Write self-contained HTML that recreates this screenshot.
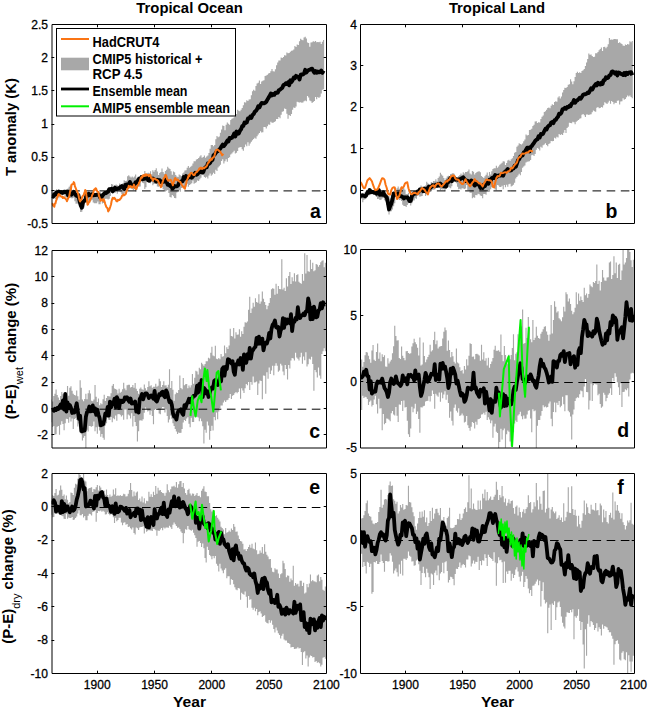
<!DOCTYPE html>
<html><head><meta charset="utf-8"><title>Tropical P-E</title>
<style>html,body{margin:0;padding:0;background:#fff;width:649px;height:710px;overflow:hidden}svg{display:block}text{font-family:"Liberation Sans",sans-serif;fill:#000}</style>
</head><body><svg width="649" height="710" viewBox="0 0 649 710" font-family="Liberation Sans, sans-serif"><defs><clipPath id="clipa"><rect x="51.5" y="24.5" width="275.0" height="199.0"/></clipPath><clipPath id="clipb"><rect x="360.5" y="24.5" width="274.0" height="199.0"/></clipPath><clipPath id="clipc"><rect x="51.5" y="250.5" width="275.0" height="197.5"/></clipPath><clipPath id="clipd"><rect x="360.5" y="249.5" width="274.0" height="198.5"/></clipPath><clipPath id="clipe"><rect x="51.5" y="473.5" width="275.0" height="200.0"/></clipPath><clipPath id="clipf"><rect x="360.5" y="473.5" width="274.0" height="200.0"/></clipPath></defs><g clip-path="url(#clipa)">
<path d="M51.43,190.30 L52.57,190.30 L52.57,192.91 L53.72,192.91 L53.72,190.10 L54.86,190.10 L54.86,191.48 L56.01,191.48 L56.01,189.22 L57.16,189.22 L57.16,191.12 L58.30,191.12 L58.30,193.61 L59.45,193.61 L59.45,192.11 L60.59,192.11 L60.59,195.80 L61.74,195.80 L61.74,192.12 L62.89,192.12 L62.89,191.56 L64.03,191.56 L64.03,190.45 L65.18,190.45 L65.18,190.87 L66.32,190.87 L66.32,192.57 L67.47,192.57 L67.47,188.51 L68.61,188.51 L68.61,186.72 L69.76,186.72 L69.76,185.56 L70.91,185.56 L70.91,186.08 L72.05,186.08 L72.05,193.63 L73.20,193.63 L73.20,195.09 L74.34,195.09 L74.34,194.50 L75.49,194.50 L75.49,195.00 L76.64,195.00 L76.64,196.16 L77.78,196.16 L77.78,198.18 L78.93,198.18 L78.93,202.21 L80.07,202.21 L80.07,203.06 L81.22,203.06 L81.22,203.29 L82.36,203.29 L82.36,202.35 L83.51,202.35 L83.51,201.79 L84.66,201.79 L84.66,199.03 L85.80,199.03 L85.80,198.01 L86.95,198.01 L86.95,198.48 L88.09,198.48 L88.09,197.05 L89.24,197.05 L89.24,195.63 L90.39,195.63 L90.39,194.44 L91.53,194.44 L91.53,191.47 L92.68,191.47 L92.68,192.36 L93.82,192.36 L93.82,193.48 L94.97,193.48 L94.97,193.88 L96.11,193.88 L96.11,193.03 L97.26,193.03 L97.26,195.27 L98.41,195.27 L98.41,192.23 L99.55,192.23 L99.55,192.01 L100.70,192.01 L100.70,192.94 L101.84,192.94 L101.84,196.20 L102.99,196.20 L102.99,194.13 L104.14,194.13 L104.14,192.76 L105.28,192.76 L105.28,190.98 L106.43,190.98 L106.43,191.72 L107.57,191.72 L107.57,190.02 L108.72,190.02 L108.72,187.27 L109.86,187.27 L109.86,188.63 L111.01,188.63 L111.01,184.05 L112.16,184.05 L112.16,184.59 L113.30,184.59 L113.30,187.01 L114.45,187.01 L114.45,185.69 L115.59,185.69 L115.59,184.45 L116.74,184.45 L116.74,185.23 L117.89,185.23 L117.89,185.87 L119.03,185.87 L119.03,183.59 L120.18,183.59 L120.18,187.16 L121.32,187.16 L121.32,184.95 L122.47,184.95 L122.47,182.89 L123.61,182.89 L123.61,180.26 L124.76,180.26 L124.76,180.88 L125.91,180.88 L125.91,180.84 L127.05,180.84 L127.05,176.17 L128.20,176.17 L128.20,175.22 L129.34,175.22 L129.34,176.47 L130.49,176.47 L130.49,177.48 L131.64,177.48 L131.64,176.62 L132.78,176.62 L132.78,177.52 L133.93,177.52 L133.93,176.54 L135.07,176.54 L135.07,174.47 L136.22,174.47 L136.22,178.26 L137.36,178.26 L137.36,176.86 L138.51,176.86 L138.51,176.83 L139.66,176.83 L139.66,180.18 L140.80,180.18 L140.80,176.81 L141.95,176.81 L141.95,178.46 L143.09,178.46 L143.09,173.97 L144.24,173.97 L144.24,171.10 L145.39,171.10 L145.39,174.01 L146.53,174.01 L146.53,173.31 L147.68,173.31 L147.68,172.80 L148.82,172.80 L148.82,173.60 L149.97,173.60 L149.97,171.25 L151.11,171.25 L151.11,174.17 L152.26,174.17 L152.26,170.15 L153.41,170.15 L153.41,171.77 L154.55,171.77 L154.55,170.07 L155.70,170.07 L155.70,168.30 L156.84,168.30 L156.84,171.53 L157.99,171.53 L157.99,174.89 L159.14,174.89 L159.14,173.05 L160.28,173.05 L160.28,171.96 L161.43,171.96 L161.43,168.40 L162.57,168.40 L162.57,171.93 L163.72,171.93 L163.72,173.63 L164.86,173.63 L164.86,170.95 L166.01,170.95 L166.01,169.85 L167.16,169.85 L167.16,166.78 L168.30,166.78 L168.30,168.14 L169.45,168.14 L169.45,169.06 L170.59,169.06 L170.59,171.15 L171.74,171.15 L171.74,174.63 L172.89,174.63 L172.89,171.50 L174.03,171.50 L174.03,172.27 L175.18,172.27 L175.18,174.93 L176.32,174.93 L176.32,176.61 L177.47,176.61 L177.47,177.01 L178.61,177.01 L178.61,174.43 L179.76,174.43 L179.76,175.33 L180.91,175.33 L180.91,176.07 L182.05,176.07 L182.05,173.47 L183.20,173.47 L183.20,172.53 L184.34,172.53 L184.34,170.50 L185.49,170.50 L185.49,170.28 L186.64,170.28 L186.64,167.84 L187.78,167.84 L187.78,166.03 L188.93,166.03 L188.93,167.75 L190.07,167.75 L190.07,166.80 L191.22,166.80 L191.22,165.74 L192.36,165.74 L192.36,163.60 L193.51,163.60 L193.51,161.22 L194.66,161.22 L194.66,161.34 L195.80,161.34 L195.80,159.57 L196.95,159.57 L196.95,158.99 L198.09,158.99 L198.09,158.09 L199.24,158.09 L199.24,156.52 L200.39,156.52 L200.39,155.14 L201.53,155.14 L201.53,157.63 L202.68,157.63 L202.68,156.98 L203.82,156.98 L203.82,155.59 L204.97,155.59 L204.97,157.65 L206.11,157.65 L206.11,156.48 L207.26,156.48 L207.26,155.62 L208.41,155.62 L208.41,152.92 L209.55,152.92 L209.55,148.67 L210.70,148.67 L210.70,144.98 L211.84,144.98 L211.84,145.01 L212.99,145.01 L212.99,146.23 L214.14,146.23 L214.14,144.90 L215.28,144.90 L215.28,139.22 L216.43,139.22 L216.43,136.08 L217.57,136.08 L217.57,137.21 L218.72,137.21 L218.72,136.50 L219.86,136.50 L219.86,132.64 L221.01,132.64 L221.01,129.55 L222.16,129.55 L222.16,125.62 L223.30,125.62 L223.30,125.89 L224.45,125.89 L224.45,130.19 L225.59,130.19 L225.59,124.69 L226.74,124.69 L226.74,122.53 L227.89,122.53 L227.89,123.64 L229.03,123.64 L229.03,124.71 L230.18,124.71 L230.18,120.00 L231.32,120.00 L231.32,118.81 L232.47,118.81 L232.47,118.13 L233.61,118.13 L233.61,117.21 L234.76,117.21 L234.76,114.14 L235.91,114.14 L235.91,113.89 L237.05,113.89 L237.05,109.69 L238.20,109.69 L238.20,110.81 L239.34,110.81 L239.34,111.36 L240.49,111.36 L240.49,109.87 L241.64,109.87 L241.64,108.05 L242.78,108.05 L242.78,105.25 L243.93,105.25 L243.93,102.30 L245.07,102.30 L245.07,102.55 L246.22,102.55 L246.22,100.19 L247.36,100.19 L247.36,100.96 L248.51,100.96 L248.51,99.52 L249.66,99.52 L249.66,99.20 L250.80,99.20 L250.80,95.21 L251.95,95.21 L251.95,91.19 L253.09,91.19 L253.09,89.84 L254.24,89.84 L254.24,90.80 L255.39,90.80 L255.39,86.09 L256.53,86.09 L256.53,83.40 L257.68,83.40 L257.68,82.86 L258.82,82.86 L258.82,80.42 L259.97,80.42 L259.97,83.98 L261.11,83.98 L261.11,81.44 L262.26,81.44 L262.26,80.87 L263.41,80.87 L263.41,80.15 L264.55,80.15 L264.55,76.09 L265.70,76.09 L265.70,75.46 L266.84,75.46 L266.84,74.73 L267.99,74.73 L267.99,73.56 L269.14,73.56 L269.14,72.96 L270.28,72.96 L270.28,71.28 L271.43,71.28 L271.43,69.10 L272.57,69.10 L272.57,71.28 L273.72,71.28 L273.72,71.56 L274.86,71.56 L274.86,69.28 L276.01,69.28 L276.01,65.15 L277.16,65.15 L277.16,62.55 L278.30,62.55 L278.30,60.57 L279.45,60.57 L279.45,60.43 L280.59,60.43 L280.59,57.55 L281.74,57.55 L281.74,57.97 L282.89,57.97 L282.89,56.89 L284.03,56.89 L284.03,55.16 L285.18,55.16 L285.18,55.48 L286.32,55.48 L286.32,52.53 L287.47,52.53 L287.47,53.29 L288.61,53.29 L288.61,52.90 L289.76,52.90 L289.76,51.84 L290.91,51.84 L290.91,50.66 L292.05,50.66 L292.05,50.60 L293.20,50.60 L293.20,49.52 L294.34,49.52 L294.34,46.09 L295.49,46.09 L295.49,47.04 L296.64,47.04 L296.64,44.50 L297.78,44.50 L297.78,45.08 L298.93,45.08 L298.93,41.24 L300.07,41.24 L300.07,38.76 L301.22,38.76 L301.22,39.80 L302.36,39.80 L302.36,40.16 L303.51,40.16 L303.51,37.58 L304.66,37.58 L304.66,36.75 L305.80,36.75 L305.80,38.50 L306.95,38.50 L306.95,42.47 L308.09,42.47 L308.09,42.96 L309.24,42.96 L309.24,46.82 L310.39,46.82 L310.39,42.50 L311.53,42.50 L311.53,42.17 L312.68,42.17 L312.68,41.27 L313.82,41.27 L313.82,41.68 L314.97,41.68 L314.97,41.01 L316.11,41.01 L316.11,42.34 L317.26,42.34 L317.26,42.09 L318.41,42.09 L318.41,42.30 L319.55,42.30 L319.55,41.65 L320.70,41.65 L320.70,43.93 L321.84,43.93 L321.84,41.72 L322.99,41.72 L322.99,40.02 L324.14,40.02 L324.14,89.32 L322.99,89.32 L322.99,89.73 L321.84,89.73 L321.84,93.58 L320.70,93.58 L320.70,96.82 L319.55,96.82 L319.55,98.09 L318.41,98.09 L318.41,96.95 L317.26,96.95 L317.26,99.31 L316.11,99.31 L316.11,96.95 L314.97,96.95 L314.97,100.96 L313.82,100.96 L313.82,102.06 L312.68,102.06 L312.68,102.93 L311.53,102.93 L311.53,101.28 L310.39,101.28 L310.39,100.38 L309.24,100.38 L309.24,97.44 L308.09,97.44 L308.09,96.10 L306.95,96.10 L306.95,101.35 L305.80,101.35 L305.80,100.44 L304.66,100.44 L304.66,101.14 L303.51,101.14 L303.51,102.42 L302.36,102.42 L302.36,102.67 L301.22,102.67 L301.22,102.29 L300.07,102.29 L300.07,102.39 L298.93,102.39 L298.93,102.28 L297.78,102.28 L297.78,101.82 L296.64,101.82 L296.64,106.49 L295.49,106.49 L295.49,108.00 L294.34,108.00 L294.34,107.42 L293.20,107.42 L293.20,109.72 L292.05,109.72 L292.05,113.99 L290.91,113.99 L290.91,116.01 L289.76,116.01 L289.76,115.02 L288.61,115.02 L288.61,118.84 L287.47,118.84 L287.47,113.66 L286.32,113.66 L286.32,108.96 L285.18,108.96 L285.18,108.43 L284.03,108.43 L284.03,111.18 L282.89,111.18 L282.89,111.85 L281.74,111.85 L281.74,114.63 L280.59,114.63 L280.59,118.27 L279.45,118.27 L279.45,117.08 L278.30,117.08 L278.30,118.90 L277.16,118.90 L277.16,118.96 L276.01,118.96 L276.01,121.28 L274.86,121.28 L274.86,122.09 L273.72,122.09 L273.72,122.71 L272.57,122.71 L272.57,122.71 L271.43,122.71 L271.43,121.63 L270.28,121.63 L270.28,124.67 L269.14,124.67 L269.14,124.61 L267.99,124.61 L267.99,126.34 L266.84,126.34 L266.84,128.54 L265.70,128.54 L265.70,126.95 L264.55,126.95 L264.55,126.96 L263.41,126.96 L263.41,132.36 L262.26,132.36 L262.26,132.59 L261.11,132.59 L261.11,131.14 L259.97,131.14 L259.97,133.04 L258.82,133.04 L258.82,134.39 L257.68,134.39 L257.68,136.16 L256.53,136.16 L256.53,138.65 L255.39,138.65 L255.39,137.64 L254.24,137.64 L254.24,138.95 L253.09,138.95 L253.09,140.13 L251.95,140.13 L251.95,141.67 L250.80,141.67 L250.80,143.57 L249.66,143.57 L249.66,145.81 L248.51,145.81 L248.51,142.22 L247.36,142.22 L247.36,146.18 L246.22,146.18 L246.22,144.52 L245.07,144.52 L245.07,147.17 L243.93,147.17 L243.93,150.81 L242.78,150.81 L242.78,149.16 L241.64,149.16 L241.64,147.11 L240.49,147.11 L240.49,147.23 L239.34,147.23 L239.34,147.85 L238.20,147.85 L238.20,151.10 L237.05,151.10 L237.05,152.79 L235.91,152.79 L235.91,153.39 L234.76,153.39 L234.76,150.81 L233.61,150.81 L233.61,152.23 L232.47,152.23 L232.47,153.45 L231.32,153.45 L231.32,154.56 L230.18,154.56 L230.18,157.33 L229.03,157.33 L229.03,157.94 L227.89,157.94 L227.89,161.76 L226.74,161.76 L226.74,159.29 L225.59,159.29 L225.59,161.29 L224.45,161.29 L224.45,163.52 L223.30,163.52 L223.30,159.24 L222.16,159.24 L222.16,160.96 L221.01,160.96 L221.01,164.65 L219.86,164.65 L219.86,166.19 L218.72,166.19 L218.72,167.38 L217.57,167.38 L217.57,170.94 L216.43,170.94 L216.43,169.73 L215.28,169.73 L215.28,174.01 L214.14,174.01 L214.14,172.82 L212.99,172.82 L212.99,174.61 L211.84,174.61 L211.84,175.84 L210.70,175.84 L210.70,173.47 L209.55,173.47 L209.55,175.49 L208.41,175.49 L208.41,178.45 L207.26,178.45 L207.26,176.84 L206.11,176.84 L206.11,177.80 L204.97,177.80 L204.97,176.93 L203.82,176.93 L203.82,175.23 L202.68,175.23 L202.68,174.28 L201.53,174.28 L201.53,177.64 L200.39,177.64 L200.39,179.25 L199.24,179.25 L199.24,180.93 L198.09,180.93 L198.09,180.53 L196.95,180.53 L196.95,182.26 L195.80,182.26 L195.80,182.88 L194.66,182.88 L194.66,183.80 L193.51,183.80 L193.51,180.45 L192.36,180.45 L192.36,183.15 L191.22,183.15 L191.22,184.30 L190.07,184.30 L190.07,185.02 L188.93,185.02 L188.93,186.67 L187.78,186.67 L187.78,183.67 L186.64,183.67 L186.64,186.85 L185.49,186.85 L185.49,186.86 L184.34,186.86 L184.34,186.51 L183.20,186.51 L183.20,183.99 L182.05,183.99 L182.05,187.95 L180.91,187.95 L180.91,191.86 L179.76,191.86 L179.76,190.36 L178.61,190.36 L178.61,191.14 L177.47,191.14 L177.47,192.58 L176.32,192.58 L176.32,198.31 L175.18,198.31 L175.18,197.92 L174.03,197.92 L174.03,196.26 L172.89,196.26 L172.89,195.00 L171.74,195.00 L171.74,197.38 L170.59,197.38 L170.59,197.11 L169.45,197.11 L169.45,193.03 L168.30,193.03 L168.30,190.02 L167.16,190.02 L167.16,190.70 L166.01,190.70 L166.01,191.62 L164.86,191.62 L164.86,190.54 L163.72,190.54 L163.72,189.17 L162.57,189.17 L162.57,187.06 L161.43,187.06 L161.43,184.16 L160.28,184.16 L160.28,185.41 L159.14,185.41 L159.14,186.70 L157.99,186.70 L157.99,186.43 L156.84,186.43 L156.84,183.89 L155.70,183.89 L155.70,183.87 L154.55,183.87 L154.55,184.00 L153.41,184.00 L153.41,185.23 L152.26,185.23 L152.26,182.10 L151.11,182.10 L151.11,183.21 L149.97,183.21 L149.97,178.30 L148.82,178.30 L148.82,180.26 L147.68,180.26 L147.68,182.10 L146.53,182.10 L146.53,187.17 L145.39,187.17 L145.39,189.04 L144.24,189.04 L144.24,183.24 L143.09,183.24 L143.09,182.77 L141.95,182.77 L141.95,181.48 L140.80,181.48 L140.80,186.58 L139.66,186.58 L139.66,186.71 L138.51,186.71 L138.51,186.56 L137.36,186.56 L137.36,189.83 L136.22,189.83 L136.22,191.53 L135.07,191.53 L135.07,189.04 L133.93,189.04 L133.93,190.18 L132.78,190.18 L132.78,188.79 L131.64,188.79 L131.64,188.55 L130.49,188.55 L130.49,188.15 L129.34,188.15 L129.34,188.63 L128.20,188.63 L128.20,190.03 L127.05,190.03 L127.05,192.72 L125.91,192.72 L125.91,194.04 L124.76,194.04 L124.76,192.77 L123.61,192.77 L123.61,196.01 L122.47,196.01 L122.47,194.38 L121.32,194.38 L121.32,192.37 L120.18,192.37 L120.18,191.58 L119.03,191.58 L119.03,191.23 L117.89,191.23 L117.89,193.80 L116.74,193.80 L116.74,188.41 L115.59,188.41 L115.59,192.98 L114.45,192.98 L114.45,191.55 L113.30,191.55 L113.30,193.81 L112.16,193.81 L112.16,192.91 L111.01,192.91 L111.01,195.90 L109.86,195.90 L109.86,198.67 L108.72,198.67 L108.72,199.52 L107.57,199.52 L107.57,198.73 L106.43,198.73 L106.43,198.72 L105.28,198.72 L105.28,199.11 L104.14,199.11 L104.14,202.89 L102.99,202.89 L102.99,203.54 L101.84,203.54 L101.84,200.64 L100.70,200.64 L100.70,204.34 L99.55,204.34 L99.55,204.33 L98.41,204.33 L98.41,201.42 L97.26,201.42 L97.26,203.28 L96.11,203.28 L96.11,203.14 L94.97,203.14 L94.97,203.14 L93.82,203.14 L93.82,202.42 L92.68,202.42 L92.68,199.76 L91.53,199.76 L91.53,200.63 L90.39,200.63 L90.39,202.39 L89.24,202.39 L89.24,202.67 L88.09,202.67 L88.09,201.96 L86.95,201.96 L86.95,203.10 L85.80,203.10 L85.80,202.90 L84.66,202.90 L84.66,207.55 L83.51,207.55 L83.51,209.06 L82.36,209.06 L82.36,211.68 L81.22,211.68 L81.22,211.89 L80.07,211.89 L80.07,206.97 L78.93,206.97 L78.93,204.31 L77.78,204.31 L77.78,203.45 L76.64,203.45 L76.64,203.74 L75.49,203.74 L75.49,201.32 L74.34,201.32 L74.34,197.57 L73.20,197.57 L73.20,198.30 L72.05,198.30 L72.05,198.35 L70.91,198.35 L70.91,197.92 L69.76,197.92 L69.76,197.99 L68.61,197.99 L68.61,198.76 L67.47,198.76 L67.47,197.63 L66.32,197.63 L66.32,197.35 L65.18,197.35 L65.18,195.62 L64.03,195.62 L64.03,195.10 L62.89,195.10 L62.89,193.77 L61.74,193.77 L61.74,196.80 L60.59,196.80 L60.59,196.79 L59.45,196.79 L59.45,198.27 L58.30,198.27 L58.30,196.85 L57.16,196.85 L57.16,195.80 L56.01,195.80 L56.01,199.03 L54.86,199.03 L54.86,197.22 L53.72,197.22 L53.72,197.42 L52.57,197.42 L52.57,198.59 L51.43,198.59 Z" fill="#a8a8a8" stroke="none"/>
<line x1="51.50" y1="190.90" x2="326.50" y2="190.90" stroke="#000" stroke-width="1" stroke-dasharray="8.6 5.55" stroke-dashoffset="8.55"/>
<path d="M52.00,195.86 L53.15,196.66 L54.29,194.25 L55.44,194.68 L56.58,192.19 L57.73,193.05 L58.88,191.47 L60.02,192.55 L61.17,192.03 L62.31,192.92 L63.46,192.02 L64.60,191.75 L65.75,192.06 L66.90,191.51 L68.04,195.27 L69.19,191.83 L70.33,194.17 L71.48,194.65 L72.62,193.42 L73.77,191.84 L74.92,193.65 L76.06,195.50 L77.21,196.14 L78.35,194.99 L79.50,200.50 L80.65,205.03 L81.79,207.79 L82.94,202.62 L84.08,200.78 L85.23,200.28 L86.38,195.19 L87.52,195.69 L88.67,193.72 L89.81,195.12 L90.96,194.41 L92.10,194.24 L93.25,195.35 L94.40,195.02 L95.54,195.12 L96.69,194.67 L97.83,194.86 L98.98,194.83 L100.12,197.42 L101.27,197.54 L102.42,195.68 L103.56,194.29 L104.71,192.99 L105.85,193.21 L107.00,192.37 L108.15,191.63 L109.29,189.17 L110.44,189.32 L111.58,188.67 L112.73,191.16 L113.88,189.79 L115.02,187.65 L116.17,189.13 L117.31,188.64 L118.46,188.29 L119.60,188.11 L120.75,186.63 L121.90,186.06 L123.04,187.57 L124.19,188.91 L125.33,184.97 L126.48,184.60 L127.62,186.43 L128.77,183.94 L129.92,182.03 L131.06,184.35 L132.21,185.72 L133.35,185.46 L134.50,184.57 L135.65,182.23 L136.79,182.78 L137.94,180.63 L139.08,178.79 L140.23,179.25 L141.38,177.16 L142.52,179.27 L143.67,178.57 L144.81,178.71 L145.96,178.46 L147.10,177.16 L148.25,180.46 L149.40,180.78 L150.54,178.34 L151.69,178.78 L152.83,178.56 L153.98,179.14 L155.12,180.63 L156.27,181.52 L157.42,179.78 L158.56,180.07 L159.71,180.19 L160.85,182.04 L162.00,181.51 L163.15,181.84 L164.29,181.65 L165.44,179.43 L166.58,181.74 L167.73,184.69 L168.88,184.64 L170.02,185.89 L171.17,185.13 L172.31,188.59 L173.46,187.72 L174.60,185.99 L175.75,186.39 L176.90,186.33 L178.04,185.44 L179.19,182.34 L180.33,181.78 L181.48,181.34 L182.62,181.25 L183.77,177.09 L184.92,178.70 L186.06,176.08 L187.21,178.65 L188.35,176.71 L189.50,177.34 L190.65,175.81 L191.79,177.66 L192.94,176.39 L194.08,174.41 L195.23,172.76 L196.38,174.69 L197.52,174.16 L198.67,172.56 L199.81,172.12 L200.96,171.05 L202.10,172.50 L203.25,172.23 L204.40,168.75 L205.54,167.16 L206.69,167.36 L207.83,163.50 L208.98,163.78 L210.12,162.72 L211.27,160.61 L212.42,160.09 L213.56,155.14 L214.71,154.55 L215.85,152.75 L217.00,151.25 L218.15,150.98 L219.29,149.39 L220.44,148.44 L221.58,146.25 L222.73,144.58 L223.88,146.15 L225.02,144.67 L226.17,142.66 L227.31,140.63 L228.46,141.42 L229.60,137.98 L230.75,138.33 L231.90,137.79 L233.04,136.16 L234.19,133.42 L235.33,136.48 L236.48,131.54 L237.62,133.72 L238.77,133.56 L239.92,130.73 L241.06,129.29 L242.21,126.04 L243.35,125.94 L244.50,122.53 L245.65,123.01 L246.79,122.36 L247.94,118.44 L249.08,118.62 L250.23,116.64 L251.38,117.87 L252.52,115.07 L253.67,114.09 L254.81,111.72 L255.96,110.77 L257.10,109.13 L258.25,106.24 L259.40,107.37 L260.54,104.85 L261.69,102.91 L262.83,103.30 L263.98,103.41 L265.12,102.75 L266.27,101.71 L267.42,99.64 L268.56,97.69 L269.71,95.95 L270.85,93.59 L272.00,95.35 L273.15,94.04 L274.29,94.80 L275.44,92.75 L276.58,92.99 L277.73,92.64 L278.88,90.08 L280.02,89.76 L281.17,88.55 L282.31,87.85 L283.46,85.05 L284.60,84.51 L285.75,83.35 L286.90,83.94 L288.04,82.24 L289.19,85.31 L290.33,80.29 L291.48,82.10 L292.62,80.17 L293.77,77.64 L294.92,78.19 L296.06,75.88 L297.21,76.78 L298.35,77.00 L299.50,79.43 L300.65,74.85 L301.79,74.34 L302.94,74.51 L304.08,73.57 L305.23,69.79 L306.38,72.52 L307.52,70.84 L308.67,70.02 L309.81,69.91 L310.96,68.82 L312.10,68.65 L313.25,70.89 L314.40,72.78 L315.54,71.18 L316.69,72.61 L317.83,71.50 L318.98,72.30 L320.12,72.04 L321.27,70.56 L322.42,72.85 L323.56,70.63" fill="none" stroke="#000" stroke-width="3.9" stroke-linejoin="round"/>
<path d="M52.00,203.23 L52.57,203.98 L53.15,205.75 L53.72,205.13 L54.29,206.78 L54.86,203.72 L55.44,203.40 L56.01,200.94 L56.58,199.70 L57.16,197.34 L57.73,196.36 L58.30,194.58 L58.88,194.06 L59.45,195.08 L60.02,194.95 L60.59,195.97 L61.17,196.77 L61.74,196.64 L62.31,196.59 L62.89,198.09 L63.46,197.21 L64.03,197.14 L64.60,198.08 L65.18,198.32 L65.75,198.96 L66.32,199.55 L66.90,201.31 L67.47,199.87 L68.04,198.51 L68.61,197.33 L69.19,196.57 L69.76,193.16 L70.33,190.39 L70.91,189.36 L71.48,184.81 L72.05,184.46 L72.62,184.11 L73.20,184.06 L73.77,182.13 L74.34,183.11 L74.92,186.37 L75.49,187.50 L76.06,189.03 L76.64,190.60 L77.21,191.63 L77.78,192.81 L78.35,194.37 L78.93,197.52 L79.50,199.92 L80.07,201.48 L80.65,200.38 L81.22,199.83 L81.79,198.56 L82.36,196.65 L82.94,195.80 L83.51,195.41 L84.08,193.69 L84.66,191.98 L85.23,189.96 L85.80,190.85 L86.38,195.17 L86.95,198.50 L87.52,204.64 L88.09,204.15 L88.67,202.47 L89.24,202.25 L89.81,200.77 L90.39,199.20 L90.96,198.28 L91.53,197.45 L92.10,195.17 L92.68,194.25 L93.25,193.11 L93.82,190.08 L94.40,189.41 L94.97,189.77 L95.54,188.24 L96.11,188.67 L96.69,190.14 L97.26,191.16 L97.83,192.07 L98.41,191.98 L98.98,196.03 L99.55,197.14 L100.12,199.25 L100.70,200.80 L101.27,199.50 L101.84,199.45 L102.42,199.37 L102.99,200.75 L103.56,199.18 L104.14,200.23 L104.71,201.95 L105.28,204.08 L105.85,205.76 L106.43,207.15 L107.00,207.82 L107.57,208.32 L108.15,211.40 L108.72,210.39 L109.29,209.73 L109.86,207.91 L110.44,206.28 L111.01,204.50 L111.58,201.23 L112.16,199.19 L112.73,197.79 L113.30,198.15 L113.88,198.77 L114.45,197.82 L115.02,198.68 L115.59,199.38 L116.17,200.54 L116.74,201.33 L117.31,201.26 L117.89,199.90 L118.46,200.22 L119.03,199.82 L119.60,200.02 L120.18,199.07 L120.75,198.45 L121.32,197.80 L121.90,196.01 L122.47,195.83 L123.04,195.42 L123.61,194.28 L124.19,195.11 L124.76,194.77 L125.33,194.34 L125.91,193.79 L126.48,191.60 L127.05,190.35 L127.62,188.41 L128.20,187.95 L128.77,185.86 L129.34,187.11 L129.92,186.34 L130.49,186.06 L131.06,186.35 L131.64,187.38 L132.21,187.66 L132.78,186.96 L133.35,186.38 L133.93,184.62 L134.50,185.81 L135.07,188.20 L135.65,188.79 L136.22,189.01 L136.79,187.90 L137.36,186.18 L137.94,184.96 L138.51,184.65 L139.08,182.61 L139.66,181.95 L140.23,180.15 L140.80,177.95 L141.38,177.05 L141.95,177.78 L142.52,175.85 L143.09,175.32 L143.67,176.10 L144.24,175.14 L144.81,174.71 L145.39,175.62 L145.96,174.17 L146.53,175.47 L147.10,174.91 L147.68,174.93 L148.25,175.33 L148.82,176.24 L149.40,175.50 L149.97,174.55 L150.54,175.73 L151.11,177.93 L151.69,178.53 L152.26,178.31 L152.83,180.85 L153.41,179.14 L153.98,178.43 L154.55,178.68 L155.12,178.94 L155.70,179.26 L156.27,179.68 L156.84,179.65 L157.42,180.30 L157.99,180.56 L158.56,182.22 L159.14,183.25 L159.71,184.96 L160.28,185.48 L160.85,187.15 L161.43,186.35 L162.00,184.18 L162.57,182.19 L163.15,180.26 L163.72,178.18 L164.29,177.84 L164.86,176.65 L165.44,174.96 L166.01,175.23 L166.58,176.83 L167.16,179.15 L167.73,180.02 L168.30,180.78 L168.88,180.25 L169.45,180.38 L170.02,180.28 L170.59,179.83 L171.17,180.48 L171.74,182.42 L172.31,183.71 L172.89,185.31 L173.46,182.80 L174.03,181.47 L174.60,178.95 L175.18,177.93 L175.75,178.73 L176.32,180.01 L176.90,179.73 L177.47,179.51 L178.04,179.75 L178.61,180.73 L179.19,181.31 L179.76,181.61 L180.33,181.96 L180.91,183.30 L181.48,184.18 L182.05,185.27 L182.62,185.84 L183.20,187.01 L183.77,186.89 L184.34,188.24 L184.92,188.60 L185.49,185.61 L186.06,184.07 L186.64,180.84 L187.21,179.63 L187.78,178.49 L188.35,176.23 L188.93,175.02 L189.50,176.08 L190.07,173.89 L190.65,173.31 L191.22,172.80 L191.79,172.90 L192.36,173.45 L192.94,174.54 L193.51,175.01 L194.08,174.97 L194.66,174.89 L195.23,173.49 L195.80,172.58 L196.38,172.11 L196.95,172.00 L197.52,170.92 L198.09,170.56 L198.67,169.91 L199.24,168.63 L199.81,169.07 L200.39,167.70 L200.96,167.79 L201.53,168.03 L202.10,168.97 L202.68,168.47 L203.25,167.89 L203.82,168.21 L204.40,168.28 L204.97,167.35 L205.54,166.93 L206.11,166.76 L206.69,165.85 L207.26,164.97 L207.83,163.23 L208.41,162.91 L208.98,162.09 L209.55,160.13 L210.12,160.80 L210.70,159.38 L211.27,158.54 L211.84,159.58 L212.42,158.21 L212.99,157.49 L213.56,157.53 L214.14,156.62 L214.71,154.84 L215.28,152.48 L215.85,150.16 L216.43,149.97 L217.00,149.72 L217.57,149.41 L218.15,149.99 L218.72,150.33 L219.29,151.18 L219.86,151.30 L220.44,151.99 L221.01,153.10 L221.58,153.78 L222.16,155.28 L222.73,154.52 L223.30,155.37" fill="none" stroke="#fa7414" stroke-width="2" stroke-linejoin="round"/>
</g>
<g clip-path="url(#clipb)">
<path d="M359.93,194.90 L361.07,194.90 L361.07,193.02 L362.21,193.02 L362.21,193.89 L363.35,193.89 L363.35,194.49 L364.50,194.49 L364.50,192.32 L365.64,192.32 L365.64,193.53 L366.78,193.53 L366.78,191.69 L367.92,191.69 L367.92,191.20 L369.06,191.20 L369.06,190.32 L370.20,190.32 L370.20,192.30 L371.35,192.30 L371.35,192.79 L372.49,192.79 L372.49,192.89 L373.63,192.89 L373.63,190.55 L374.77,190.55 L374.77,191.63 L375.91,191.63 L375.91,192.49 L377.05,192.49 L377.05,194.16 L378.20,194.16 L378.20,190.48 L379.34,190.48 L379.34,189.44 L380.48,189.44 L380.48,190.27 L381.62,190.27 L381.62,191.59 L382.76,191.59 L382.76,191.91 L383.90,191.91 L383.90,196.17 L385.05,196.17 L385.05,195.78 L386.19,195.78 L386.19,193.43 L387.33,193.43 L387.33,196.40 L388.47,196.40 L388.47,196.25 L389.61,196.25 L389.61,198.51 L390.75,198.51 L390.75,194.97 L391.90,194.97 L391.90,192.34 L393.04,192.34 L393.04,193.67 L394.18,193.67 L394.18,193.15 L395.32,193.15 L395.32,190.63 L396.46,190.63 L396.46,188.16 L397.60,188.16 L397.60,186.45 L398.75,186.45 L398.75,188.70 L399.89,188.70 L399.89,187.40 L401.03,187.40 L401.03,189.45 L402.17,189.45 L402.17,187.98 L403.31,187.98 L403.31,188.27 L404.45,188.27 L404.45,189.70 L405.60,189.70 L405.60,193.96 L406.74,193.96 L406.74,194.00 L407.88,194.00 L407.88,192.81 L409.02,192.81 L409.02,196.89 L410.16,196.89 L410.16,190.39 L411.30,190.39 L411.30,192.87 L412.45,192.87 L412.45,193.29 L413.59,193.29 L413.59,190.78 L414.73,190.78 L414.73,190.65 L415.87,190.65 L415.87,192.41 L417.01,192.41 L417.01,190.58 L418.15,190.58 L418.15,189.17 L419.30,189.17 L419.30,187.65 L420.44,187.65 L420.44,185.57 L421.58,185.57 L421.58,186.40 L422.72,186.40 L422.72,189.46 L423.86,189.46 L423.86,187.10 L425.00,187.10 L425.00,185.53 L426.15,185.53 L426.15,181.69 L427.29,181.69 L427.29,183.23 L428.43,183.23 L428.43,184.46 L429.57,184.46 L429.57,185.34 L430.71,185.34 L430.71,181.96 L431.85,181.96 L431.85,182.82 L433.00,182.82 L433.00,180.99 L434.14,180.99 L434.14,181.23 L435.28,181.23 L435.28,179.30 L436.42,179.30 L436.42,181.52 L437.56,181.52 L437.56,178.00 L438.70,178.00 L438.70,176.47 L439.85,176.47 L439.85,172.65 L440.99,172.65 L440.99,174.45 L442.13,174.45 L442.13,175.74 L443.27,175.74 L443.27,178.08 L444.41,178.08 L444.41,179.91 L445.55,179.91 L445.55,178.34 L446.70,178.34 L446.70,176.46 L447.84,176.46 L447.84,175.69 L448.98,175.69 L448.98,176.37 L450.12,176.37 L450.12,173.98 L451.26,173.98 L451.26,173.79 L452.40,173.79 L452.40,173.10 L453.55,173.10 L453.55,173.79 L454.69,173.79 L454.69,175.63 L455.83,175.63 L455.83,177.74 L456.97,177.74 L456.97,177.50 L458.11,177.50 L458.11,176.03 L459.25,176.03 L459.25,174.98 L460.40,174.98 L460.40,173.38 L461.54,173.38 L461.54,174.76 L462.68,174.76 L462.68,172.16 L463.82,172.16 L463.82,173.57 L464.96,173.57 L464.96,171.95 L466.10,171.95 L466.10,171.98 L467.25,171.98 L467.25,171.31 L468.39,171.31 L468.39,169.57 L469.53,169.57 L469.53,173.62 L470.67,173.62 L470.67,174.59 L471.81,174.59 L471.81,171.12 L472.95,171.12 L472.95,171.78 L474.10,171.78 L474.10,174.40 L475.24,174.40 L475.24,173.09 L476.38,173.09 L476.38,171.88 L477.52,171.88 L477.52,171.51 L478.66,171.51 L478.66,171.18 L479.80,171.18 L479.80,172.15 L480.95,172.15 L480.95,176.00 L482.09,176.00 L482.09,176.91 L483.23,176.91 L483.23,177.95 L484.37,177.95 L484.37,176.17 L485.51,176.17 L485.51,174.82 L486.65,174.82 L486.65,172.48 L487.80,172.48 L487.80,175.66 L488.94,175.66 L488.94,172.03 L490.08,172.03 L490.08,174.55 L491.22,174.55 L491.22,171.17 L492.36,171.17 L492.36,169.04 L493.50,169.04 L493.50,168.18 L494.65,168.18 L494.65,168.17 L495.79,168.17 L495.79,165.75 L496.93,165.75 L496.93,167.73 L498.07,167.73 L498.07,166.61 L499.21,166.61 L499.21,164.87 L500.35,164.87 L500.35,163.65 L501.50,163.65 L501.50,162.79 L502.64,162.79 L502.64,161.34 L503.78,161.34 L503.78,161.52 L504.92,161.52 L504.92,164.92 L506.06,164.92 L506.06,162.97 L507.20,162.97 L507.20,160.62 L508.35,160.62 L508.35,159.70 L509.49,159.70 L509.49,160.97 L510.63,160.97 L510.63,159.19 L511.77,159.19 L511.77,158.24 L512.91,158.24 L512.91,155.97 L514.05,155.97 L514.05,152.67 L515.20,152.67 L515.20,151.90 L516.34,151.90 L516.34,146.82 L517.48,146.82 L517.48,145.44 L518.62,145.44 L518.62,143.15 L519.76,143.15 L519.76,143.91 L520.90,143.91 L520.90,144.60 L522.05,144.60 L522.05,143.39 L523.19,143.39 L523.19,141.29 L524.33,141.29 L524.33,139.40 L525.47,139.40 L525.47,134.61 L526.61,134.61 L526.61,135.40 L527.75,135.40 L527.75,135.11 L528.90,135.11 L528.90,130.11 L530.04,130.11 L530.04,129.66 L531.18,129.66 L531.18,128.83 L532.32,128.83 L532.32,126.02 L533.46,126.02 L533.46,124.65 L534.60,124.65 L534.60,121.40 L535.75,121.40 L535.75,121.37 L536.89,121.37 L536.89,122.90 L538.03,122.90 L538.03,122.27 L539.17,122.27 L539.17,122.56 L540.31,122.56 L540.31,118.97 L541.45,118.97 L541.45,116.65 L542.60,116.65 L542.60,115.53 L543.74,115.53 L543.74,112.00 L544.88,112.00 L544.88,111.36 L546.02,111.36 L546.02,109.82 L547.16,109.82 L547.16,107.91 L548.30,107.91 L548.30,107.57 L549.45,107.57 L549.45,108.30 L550.59,108.30 L550.59,105.87 L551.73,105.87 L551.73,104.37 L552.87,104.37 L552.87,105.09 L554.01,105.09 L554.01,101.99 L555.15,101.99 L555.15,101.20 L556.30,101.20 L556.30,101.81 L557.44,101.81 L557.44,97.47 L558.58,97.47 L558.58,96.37 L559.72,96.37 L559.72,98.46 L560.86,98.46 L560.86,96.45 L562.00,96.45 L562.00,92.52 L563.15,92.52 L563.15,89.91 L564.29,89.91 L564.29,87.79 L565.43,87.79 L565.43,88.03 L566.57,88.03 L566.57,87.01 L567.71,87.01 L567.71,84.82 L568.85,84.82 L568.85,84.35 L570.00,84.35 L570.00,79.30 L571.14,79.30 L571.14,81.41 L572.28,81.41 L572.28,84.35 L573.42,84.35 L573.42,81.20 L574.56,81.20 L574.56,77.10 L575.70,77.10 L575.70,73.10 L576.85,73.10 L576.85,71.69 L577.99,71.69 L577.99,72.90 L579.13,72.90 L579.13,72.33 L580.27,72.33 L580.27,72.90 L581.41,72.90 L581.41,71.00 L582.55,71.00 L582.55,70.18 L583.70,70.18 L583.70,69.07 L584.84,69.07 L584.84,65.92 L585.98,65.92 L585.98,62.60 L587.12,62.60 L587.12,59.08 L588.26,59.08 L588.26,53.49 L589.40,53.49 L589.40,54.72 L590.55,54.72 L590.55,54.43 L591.69,54.43 L591.69,56.09 L592.83,56.09 L592.83,56.94 L593.97,56.94 L593.97,56.84 L595.11,56.84 L595.11,53.36 L596.25,53.36 L596.25,53.36 L597.40,53.36 L597.40,51.97 L598.54,51.97 L598.54,50.14 L599.68,50.14 L599.68,48.98 L600.82,48.98 L600.82,47.41 L601.96,47.41 L601.96,51.12 L603.10,51.12 L603.10,47.10 L604.25,47.10 L604.25,46.82 L605.39,46.82 L605.39,48.26 L606.53,48.26 L606.53,46.79 L607.67,46.79 L607.67,44.31 L608.81,44.31 L608.81,38.12 L609.95,38.12 L609.95,39.80 L611.10,39.80 L611.10,39.61 L612.24,39.61 L612.24,39.82 L613.38,39.82 L613.38,38.90 L614.52,38.90 L614.52,38.88 L615.66,38.88 L615.66,39.15 L616.80,39.15 L616.80,39.24 L617.95,39.24 L617.95,43.10 L619.09,43.10 L619.09,42.24 L620.23,42.24 L620.23,43.18 L621.37,43.18 L621.37,44.06 L622.51,44.06 L622.51,45.55 L623.65,45.55 L623.65,45.96 L624.80,45.96 L624.80,44.41 L625.94,44.41 L625.94,44.93 L627.08,44.93 L627.08,44.07 L628.22,44.07 L628.22,44.52 L629.36,44.52 L629.36,41.19 L630.50,41.19 L630.50,42.18 L631.65,42.18 L631.65,40.91 L632.79,40.91 L632.79,98.16 L631.65,98.16 L631.65,96.96 L630.50,96.96 L630.50,95.46 L629.36,95.46 L629.36,96.56 L628.22,96.56 L628.22,95.61 L627.08,95.61 L627.08,97.33 L625.94,97.33 L625.94,98.92 L624.80,98.92 L624.80,99.83 L623.65,99.83 L623.65,98.28 L622.51,98.28 L622.51,101.27 L621.37,101.27 L621.37,101.41 L620.23,101.41 L620.23,104.39 L619.09,104.39 L619.09,100.60 L617.95,100.60 L617.95,100.77 L616.80,100.77 L616.80,103.00 L615.66,103.00 L615.66,102.79 L614.52,102.79 L614.52,104.31 L613.38,104.31 L613.38,102.10 L612.24,102.10 L612.24,101.09 L611.10,101.09 L611.10,103.69 L609.95,103.69 L609.95,100.70 L608.81,100.70 L608.81,102.43 L607.67,102.43 L607.67,103.91 L606.53,103.91 L606.53,103.16 L605.39,103.16 L605.39,102.32 L604.25,102.32 L604.25,105.15 L603.10,105.15 L603.10,107.49 L601.96,107.49 L601.96,107.07 L600.82,107.07 L600.82,107.97 L599.68,107.97 L599.68,108.16 L598.54,108.16 L598.54,107.05 L597.40,107.05 L597.40,107.84 L596.25,107.84 L596.25,111.80 L595.11,111.80 L595.11,111.26 L593.97,111.26 L593.97,110.38 L592.83,110.38 L592.83,112.22 L591.69,112.22 L591.69,114.30 L590.55,114.30 L590.55,114.47 L589.40,114.47 L589.40,115.01 L588.26,115.01 L588.26,114.45 L587.12,114.45 L587.12,114.42 L585.98,114.42 L585.98,117.06 L584.84,117.06 L584.84,115.23 L583.70,115.23 L583.70,114.01 L582.55,114.01 L582.55,114.84 L581.41,114.84 L581.41,118.35 L580.27,118.35 L580.27,118.73 L579.13,118.73 L579.13,119.91 L577.99,119.91 L577.99,120.84 L576.85,120.84 L576.85,121.67 L575.70,121.67 L575.70,124.36 L574.56,124.36 L574.56,122.13 L573.42,122.13 L573.42,121.72 L572.28,121.72 L572.28,123.17 L571.14,123.17 L571.14,123.05 L570.00,123.05 L570.00,122.87 L568.85,122.87 L568.85,126.73 L567.71,126.73 L567.71,128.01 L566.57,128.01 L566.57,132.99 L565.43,132.99 L565.43,129.98 L564.29,129.98 L564.29,132.76 L563.15,132.76 L563.15,135.01 L562.00,135.01 L562.00,134.17 L560.86,134.17 L560.86,135.03 L559.72,135.03 L559.72,133.95 L558.58,133.95 L558.58,137.52 L557.44,137.52 L557.44,136.72 L556.30,136.72 L556.30,138.59 L555.15,138.59 L555.15,137.73 L554.01,137.73 L554.01,140.93 L552.87,140.93 L552.87,141.22 L551.73,141.22 L551.73,141.10 L550.59,141.10 L550.59,143.31 L549.45,143.31 L549.45,143.93 L548.30,143.93 L548.30,146.35 L547.16,146.35 L547.16,144.99 L546.02,144.99 L546.02,143.16 L544.88,143.16 L544.88,144.51 L543.74,144.51 L543.74,145.33 L542.60,145.33 L542.60,147.73 L541.45,147.73 L541.45,146.71 L540.31,146.71 L540.31,150.53 L539.17,150.53 L539.17,148.66 L538.03,148.66 L538.03,148.12 L536.89,148.12 L536.89,149.65 L535.75,149.65 L535.75,154.03 L534.60,154.03 L534.60,155.90 L533.46,155.90 L533.46,154.82 L532.32,154.82 L532.32,155.18 L531.18,155.18 L531.18,160.11 L530.04,160.11 L530.04,161.16 L528.90,161.16 L528.90,161.53 L527.75,161.53 L527.75,161.75 L526.61,161.75 L526.61,162.58 L525.47,162.58 L525.47,165.44 L524.33,165.44 L524.33,166.41 L523.19,166.41 L523.19,167.83 L522.05,167.83 L522.05,171.93 L520.90,171.93 L520.90,175.17 L519.76,175.17 L519.76,173.68 L518.62,173.68 L518.62,175.40 L517.48,175.40 L517.48,176.90 L516.34,176.90 L516.34,178.47 L515.20,178.47 L515.20,182.71 L514.05,182.71 L514.05,184.63 L512.91,184.63 L512.91,185.73 L511.77,185.73 L511.77,186.55 L510.63,186.55 L510.63,183.78 L509.49,183.78 L509.49,184.37 L508.35,184.37 L508.35,186.65 L507.20,186.65 L507.20,184.77 L506.06,184.77 L506.06,187.15 L504.92,187.15 L504.92,184.96 L503.78,184.96 L503.78,189.15 L502.64,189.15 L502.64,185.83 L501.50,185.83 L501.50,186.98 L500.35,186.98 L500.35,187.07 L499.21,187.07 L499.21,185.54 L498.07,185.54 L498.07,184.98 L496.93,184.98 L496.93,190.37 L495.79,190.37 L495.79,189.58 L494.65,189.58 L494.65,184.01 L493.50,184.01 L493.50,185.09 L492.36,185.09 L492.36,187.36 L491.22,187.36 L491.22,189.23 L490.08,189.23 L490.08,191.68 L488.94,191.68 L488.94,191.91 L487.80,191.91 L487.80,190.43 L486.65,190.43 L486.65,194.85 L485.51,194.85 L485.51,194.05 L484.37,194.05 L484.37,193.99 L483.23,193.99 L483.23,198.37 L482.09,198.37 L482.09,195.93 L480.95,195.93 L480.95,195.38 L479.80,195.38 L479.80,194.20 L478.66,194.20 L478.66,193.77 L477.52,193.77 L477.52,195.23 L476.38,195.23 L476.38,195.01 L475.24,195.01 L475.24,197.79 L474.10,197.79 L474.10,197.20 L472.95,197.20 L472.95,198.28 L471.81,198.28 L471.81,192.74 L470.67,192.74 L470.67,192.73 L469.53,192.73 L469.53,190.60 L468.39,190.60 L468.39,190.13 L467.25,190.13 L467.25,184.89 L466.10,184.89 L466.10,188.38 L464.96,188.38 L464.96,188.89 L463.82,188.89 L463.82,188.59 L462.68,188.59 L462.68,188.20 L461.54,188.20 L461.54,189.42 L460.40,189.42 L460.40,188.87 L459.25,188.87 L459.25,189.28 L458.11,189.28 L458.11,186.71 L456.97,186.71 L456.97,183.31 L455.83,183.31 L455.83,180.34 L454.69,180.34 L454.69,178.69 L453.55,178.69 L453.55,181.47 L452.40,181.47 L452.40,186.26 L451.26,186.26 L451.26,188.22 L450.12,188.22 L450.12,187.49 L448.98,187.49 L448.98,187.35 L447.84,187.35 L447.84,187.79 L446.70,187.79 L446.70,188.97 L445.55,188.97 L445.55,191.33 L444.41,191.33 L444.41,189.17 L443.27,189.17 L443.27,189.38 L442.13,189.38 L442.13,189.18 L440.99,189.18 L440.99,190.13 L439.85,190.13 L439.85,186.56 L438.70,186.56 L438.70,185.77 L437.56,185.77 L437.56,187.69 L436.42,187.69 L436.42,185.69 L435.28,185.69 L435.28,189.61 L434.14,189.61 L434.14,189.72 L433.00,189.72 L433.00,189.74 L431.85,189.74 L431.85,191.06 L430.71,191.06 L430.71,189.24 L429.57,189.24 L429.57,190.36 L428.43,190.36 L428.43,193.74 L427.29,193.74 L427.29,194.30 L426.15,194.30 L426.15,196.11 L425.00,196.11 L425.00,190.70 L423.86,190.70 L423.86,192.19 L422.72,192.19 L422.72,196.11 L421.58,196.11 L421.58,196.36 L420.44,196.36 L420.44,196.67 L419.30,196.67 L419.30,195.24 L418.15,195.24 L418.15,195.72 L417.01,195.72 L417.01,198.66 L415.87,198.66 L415.87,198.25 L414.73,198.25 L414.73,200.52 L413.59,200.52 L413.59,200.50 L412.45,200.50 L412.45,203.29 L411.30,203.29 L411.30,205.59 L410.16,205.59 L410.16,202.55 L409.02,202.55 L409.02,203.33 L407.88,203.33 L407.88,204.90 L406.74,204.90 L406.74,206.94 L405.60,206.94 L405.60,206.00 L404.45,206.00 L404.45,205.95 L403.31,205.95 L403.31,204.67 L402.17,204.67 L402.17,201.10 L401.03,201.10 L401.03,199.38 L399.89,199.38 L399.89,199.94 L398.75,199.94 L398.75,195.87 L397.60,195.87 L397.60,194.95 L396.46,194.95 L396.46,194.73 L395.32,194.73 L395.32,203.35 L394.18,203.35 L394.18,206.36 L393.04,206.36 L393.04,209.61 L391.90,209.61 L391.90,211.19 L390.75,211.19 L390.75,211.52 L389.61,211.52 L389.61,214.49 L388.47,214.49 L388.47,211.57 L387.33,211.57 L387.33,205.08 L386.19,205.08 L386.19,201.32 L385.05,201.32 L385.05,200.17 L383.90,200.17 L383.90,197.91 L382.76,197.91 L382.76,198.57 L381.62,198.57 L381.62,199.81 L380.48,199.81 L380.48,200.04 L379.34,200.04 L379.34,198.85 L378.20,198.85 L378.20,199.11 L377.05,199.11 L377.05,196.90 L375.91,196.90 L375.91,193.91 L374.77,193.91 L374.77,194.22 L373.63,194.22 L373.63,193.89 L372.49,193.89 L372.49,193.79 L371.35,193.79 L371.35,194.44 L370.20,194.44 L370.20,195.29 L369.06,195.29 L369.06,195.14 L367.92,195.14 L367.92,197.17 L366.78,197.17 L366.78,198.44 L365.64,198.44 L365.64,199.30 L364.50,199.30 L364.50,199.70 L363.35,199.70 L363.35,202.29 L362.21,202.29 L362.21,198.63 L361.07,198.63 L361.07,200.49 L359.93,200.49 Z" fill="#a8a8a8" stroke="none"/>
<line x1="360.50" y1="190.90" x2="634.50" y2="190.90" stroke="#000" stroke-width="1" stroke-dasharray="8.6 5.55" stroke-dashoffset="8.55"/>
<path d="M360.50,195.63 L361.64,195.75 L362.78,195.19 L363.93,195.74 L365.07,196.34 L366.21,195.28 L367.35,192.57 L368.49,192.78 L369.63,190.00 L370.77,192.21 L371.92,191.73 L373.06,192.15 L374.20,192.69 L375.34,191.65 L376.48,193.76 L377.62,192.78 L378.77,190.07 L379.91,194.79 L381.05,193.96 L382.19,194.81 L383.33,192.16 L384.48,195.03 L385.62,196.17 L386.76,197.40 L387.90,202.81 L389.04,209.42 L390.18,206.13 L391.32,203.76 L392.47,199.27 L393.61,193.53 L394.75,194.23 L395.89,194.88 L397.03,194.02 L398.18,193.55 L399.32,195.61 L400.46,196.17 L401.60,196.27 L402.74,197.05 L403.88,198.34 L405.02,197.27 L406.17,197.64 L407.31,197.28 L408.45,198.80 L409.59,201.15 L410.73,200.88 L411.88,196.17 L413.02,194.66 L414.16,193.30 L415.30,193.62 L416.44,193.37 L417.58,191.57 L418.73,191.75 L419.87,189.37 L421.01,189.36 L422.15,189.64 L423.29,191.26 L424.43,188.62 L425.57,191.20 L426.72,189.57 L427.86,188.00 L429.00,186.54 L430.14,187.99 L431.28,187.02 L432.43,185.24 L433.57,185.41 L434.71,186.23 L435.85,184.74 L436.99,185.80 L438.13,184.01 L439.27,185.70 L440.42,183.66 L441.56,185.03 L442.70,185.32 L443.84,186.23 L444.98,186.25 L446.12,186.57 L447.27,181.60 L448.41,182.00 L449.55,179.46 L450.69,177.76 L451.83,181.16 L452.98,178.43 L454.12,178.05 L455.26,179.78 L456.40,179.13 L457.54,179.70 L458.68,179.44 L459.82,179.32 L460.97,178.53 L462.11,178.13 L463.25,177.34 L464.39,178.88 L465.53,181.04 L466.68,180.56 L467.82,180.81 L468.96,182.37 L470.10,181.81 L471.24,180.49 L472.38,181.10 L473.52,183.50 L474.67,185.54 L475.81,182.04 L476.95,184.36 L478.09,184.27 L479.23,184.74 L480.38,187.88 L481.52,186.19 L482.66,188.06 L483.80,184.81 L484.94,186.04 L486.08,182.74 L487.23,183.15 L488.37,183.81 L489.51,179.85 L490.65,180.98 L491.79,177.98 L492.93,177.52 L494.07,178.09 L495.22,174.97 L496.36,177.19 L497.50,176.25 L498.64,175.43 L499.78,175.54 L500.92,175.54 L502.07,174.08 L503.21,175.69 L504.35,172.45 L505.49,171.30 L506.63,170.48 L507.77,168.96 L508.92,170.21 L510.06,170.52 L511.20,170.40 L512.34,168.89 L513.48,168.50 L514.62,165.77 L515.77,166.74 L516.91,163.67 L518.05,160.05 L519.19,159.25 L520.33,156.66 L521.48,155.81 L522.62,155.33 L523.76,152.34 L524.90,151.92 L526.04,149.71 L527.18,147.66 L528.33,147.62 L529.47,151.42 L530.61,146.96 L531.75,146.00 L532.89,144.42 L534.03,142.87 L535.17,140.95 L536.32,139.77 L537.46,139.27 L538.60,136.30 L539.74,137.51 L540.88,134.07 L542.02,134.39 L543.17,133.56 L544.31,131.05 L545.45,128.86 L546.59,129.39 L547.73,126.83 L548.88,125.61 L550.02,125.19 L551.16,122.64 L552.30,121.93 L553.44,123.09 L554.58,120.25 L555.73,119.95 L556.87,118.07 L558.01,116.79 L559.15,113.76 L560.29,114.08 L561.43,112.67 L562.58,109.18 L563.72,109.00 L564.86,107.79 L566.00,108.69 L567.14,107.00 L568.28,107.36 L569.42,105.78 L570.57,106.15 L571.71,103.58 L572.85,102.83 L573.99,100.04 L575.13,102.76 L576.27,100.89 L577.42,100.21 L578.56,99.15 L579.70,97.71 L580.84,98.58 L581.98,96.64 L583.12,94.71 L584.27,94.21 L585.41,94.21 L586.55,93.72 L587.69,92.41 L588.83,92.89 L589.98,90.62 L591.12,88.25 L592.26,89.55 L593.40,87.26 L594.54,85.61 L595.68,84.17 L596.83,85.32 L597.97,82.67 L599.11,83.81 L600.25,84.55 L601.39,82.86 L602.53,83.94 L603.67,80.19 L604.82,79.99 L605.96,77.39 L607.10,78.15 L608.24,77.68 L609.38,75.35 L610.52,75.16 L611.67,71.82 L612.81,71.38 L613.95,72.48 L615.09,73.75 L616.23,72.38 L617.38,75.41 L618.52,72.47 L619.66,72.89 L620.80,73.82 L621.94,74.18 L623.08,75.04 L624.22,73.02 L625.37,75.13 L626.51,72.81 L627.65,74.05 L628.79,72.68 L629.93,72.37 L631.08,72.13 L632.22,75.25" fill="none" stroke="#000" stroke-width="3.9" stroke-linejoin="round"/>
<path d="M360.50,181.93 L361.64,183.85 L362.78,186.42 L363.93,188.22 L365.07,187.82 L366.21,184.18 L367.35,180.47 L368.49,179.28 L369.63,178.18 L370.77,179.68 L371.92,181.23 L373.06,184.94 L374.20,187.87 L375.34,190.20 L376.48,189.73 L377.62,189.29 L378.77,186.55 L379.91,184.02 L381.05,180.67 L382.19,178.26 L383.33,178.38 L384.48,179.61 L385.62,184.70 L386.76,188.05 L387.90,193.46 L389.04,194.39 L390.18,194.52 L391.32,190.12 L392.47,187.84 L393.61,187.31 L394.75,187.54 L395.89,193.64 L397.03,199.02 L398.18,197.55 L399.32,195.67 L400.46,191.84 L401.60,187.28 L402.74,188.02 L403.88,186.36 L405.02,183.47 L406.17,182.62 L407.31,182.34 L408.45,188.23 L409.59,191.25 L410.73,193.89 L411.88,194.25 L413.02,193.26 L414.16,192.88 L415.30,192.84 L416.44,193.52 L417.58,194.25 L418.73,192.09 L419.87,191.52 L421.01,189.39 L422.15,187.96 L423.29,188.96 L424.43,189.62 L425.57,191.60 L426.72,192.75 L427.86,194.38 L429.00,190.65 L430.14,187.55 L431.28,186.47 L432.43,185.44 L433.57,185.37 L434.71,187.41 L435.85,184.93 L436.99,183.82 L438.13,183.31 L439.27,183.86 L440.42,185.63 L441.56,186.41 L442.70,185.46 L443.84,184.08 L444.98,182.55 L446.12,181.11 L447.27,181.59 L448.41,179.79 L449.55,179.69 L450.69,176.95 L451.83,176.18 L452.98,175.45 L454.12,175.63 L455.26,178.39 L456.40,179.60 L457.54,179.53 L458.68,179.99 L459.82,182.08 L460.97,182.80 L462.11,184.09 L463.25,183.92 L464.39,181.66 L465.53,179.18 L466.68,181.56 L467.82,183.28 L468.96,184.90 L470.10,186.33 L471.24,184.91 L472.38,182.42 L473.52,181.45 L474.67,179.11 L475.81,181.10 L476.95,181.31 L478.09,182.38 L479.23,183.50 L480.38,183.33 L481.52,184.77 L482.66,186.50 L483.80,183.63 L484.94,181.97 L486.08,179.64 L487.23,179.56 L488.37,180.27 L489.51,180.24 L490.65,180.44 L491.79,182.01 L492.93,186.85 L494.07,187.44 L495.22,182.60 L496.36,178.10 L497.50,176.13 L498.64,176.33 L499.78,175.65 L500.92,172.84 L502.07,173.13 L503.21,172.99 L504.35,172.38 L505.49,172.25 L506.63,172.95 L507.77,171.48 L508.92,171.19 L510.06,170.39 L511.20,167.71 L512.34,168.49 L513.48,166.65 L514.62,165.03 L515.77,163.73 L516.91,162.56 L518.05,158.70 L519.19,157.25 L520.33,156.78 L521.48,154.28 L522.62,153.55 L523.76,153.63 L524.90,153.53 L526.04,152.75 L527.18,152.53 L528.33,152.36 L529.47,150.96 L530.61,150.59 L531.75,151.16 L532.89,151.72" fill="none" stroke="#fa7414" stroke-width="2" stroke-linejoin="round"/>
</g>
<g clip-path="url(#clipc)">
<path d="M50.93,399.62 L52.07,399.62 L52.07,401.60 L53.22,401.60 L53.22,396.09 L54.36,396.09 L54.36,393.77 L55.51,393.77 L55.51,389.54 L56.66,389.54 L56.66,395.01 L57.80,395.01 L57.80,397.50 L58.95,397.50 L58.95,399.93 L60.09,399.93 L60.09,395.90 L61.24,395.90 L61.24,392.05 L62.39,392.05 L62.39,394.31 L63.53,394.31 L63.53,398.64 L64.68,398.64 L64.68,395.11 L65.82,395.11 L65.82,397.45 L66.97,397.45 L66.97,385.94 L68.11,385.94 L68.11,395.79 L69.26,395.79 L69.26,387.86 L70.41,387.86 L70.41,386.37 L71.55,386.37 L71.55,390.76 L72.70,390.76 L72.70,393.85 L73.84,393.85 L73.84,395.03 L74.99,395.03 L74.99,395.59 L76.14,395.59 L76.14,390.52 L77.28,390.52 L77.28,396.37 L78.43,396.37 L78.43,399.76 L79.57,399.76 L79.57,380.37 L80.72,380.37 L80.72,387.66 L81.86,387.66 L81.86,399.55 L83.01,399.55 L83.01,401.35 L84.16,401.35 L84.16,398.95 L85.30,398.95 L85.30,393.87 L86.45,393.87 L86.45,399.36 L87.59,399.36 L87.59,393.16 L88.74,393.16 L88.74,390.25 L89.89,390.25 L89.89,393.62 L91.03,393.62 L91.03,400.63 L92.18,400.63 L92.18,401.14 L93.32,401.14 L93.32,399.57 L94.47,399.57 L94.47,384.92 L95.61,384.92 L95.61,396.69 L96.76,396.69 L96.76,402.05 L97.91,402.05 L97.91,398.59 L99.05,398.59 L99.05,405.27 L100.20,405.27 L100.20,403.28 L101.34,403.28 L101.34,404.30 L102.49,404.30 L102.49,399.23 L103.64,399.23 L103.64,394.76 L104.78,394.76 L104.78,401.04 L105.93,401.04 L105.93,397.93 L107.07,397.93 L107.07,396.10 L108.22,396.10 L108.22,396.35 L109.36,396.35 L109.36,396.49 L110.51,396.49 L110.51,393.36 L111.66,393.36 L111.66,385.70 L112.80,385.70 L112.80,384.01 L113.95,384.01 L113.95,388.42 L115.09,388.42 L115.09,389.04 L116.24,389.04 L116.24,389.83 L117.39,389.83 L117.39,393.50 L118.53,393.50 L118.53,388.84 L119.68,388.84 L119.68,392.86 L120.82,392.86 L120.82,391.71 L121.97,391.71 L121.97,389.25 L123.11,389.25 L123.11,382.81 L124.26,382.81 L124.26,388.41 L125.41,388.41 L125.41,390.37 L126.55,390.37 L126.55,385.24 L127.70,385.24 L127.70,384.83 L128.84,384.83 L128.84,384.77 L129.99,384.77 L129.99,387.56 L131.14,387.56 L131.14,386.95 L132.28,386.95 L132.28,385.07 L133.43,385.07 L133.43,387.75 L134.57,387.75 L134.57,382.96 L135.72,382.96 L135.72,388.66 L136.86,388.66 L136.86,391.03 L138.01,391.03 L138.01,393.63 L139.16,393.63 L139.16,388.84 L140.30,388.84 L140.30,387.47 L141.45,387.47 L141.45,389.31 L142.59,389.31 L142.59,389.72 L143.74,389.72 L143.74,384.62 L144.89,384.62 L144.89,388.28 L146.03,388.28 L146.03,390.22 L147.18,390.22 L147.18,386.93 L148.32,386.93 L148.32,381.21 L149.47,381.21 L149.47,386.16 L150.61,386.16 L150.61,385.30 L151.76,385.30 L151.76,387.85 L152.91,387.85 L152.91,386.75 L154.05,386.75 L154.05,386.69 L155.20,386.69 L155.20,383.87 L156.34,383.87 L156.34,386.84 L157.49,386.84 L157.49,385.64 L158.64,385.64 L158.64,378.84 L159.78,378.84 L159.78,381.24 L160.93,381.24 L160.93,387.00 L162.07,387.00 L162.07,384.92 L163.22,384.92 L163.22,381.27 L164.36,381.27 L164.36,385.48 L165.51,385.48 L165.51,385.28 L166.66,385.28 L166.66,387.35 L167.80,387.35 L167.80,384.76 L168.95,384.76 L168.95,369.23 L170.09,369.23 L170.09,388.05 L171.24,388.05 L171.24,380.98 L172.39,380.98 L172.39,389.78 L173.53,389.78 L173.53,400.68 L174.68,400.68 L174.68,394.29 L175.82,394.29 L175.82,392.39 L176.97,392.39 L176.97,392.97 L178.11,392.97 L178.11,390.12 L179.26,390.12 L179.26,375.51 L180.41,375.51 L180.41,387.96 L181.55,387.96 L181.55,389.18 L182.70,389.18 L182.70,377.94 L183.84,377.94 L183.84,385.14 L184.99,385.14 L184.99,384.35 L186.14,384.35 L186.14,383.89 L187.28,383.89 L187.28,388.34 L188.43,388.34 L188.43,385.49 L189.57,385.49 L189.57,387.53 L190.72,387.53 L190.72,385.22 L191.86,385.22 L191.86,373.88 L193.01,373.88 L193.01,383.72 L194.16,383.72 L194.16,377.65 L195.30,377.65 L195.30,370.70 L196.45,370.70 L196.45,371.51 L197.59,371.51 L197.59,374.60 L198.74,374.60 L198.74,367.70 L199.89,367.70 L199.89,369.19 L201.03,369.19 L201.03,362.64 L202.18,362.64 L202.18,364.35 L203.32,364.35 L203.32,365.79 L204.47,365.79 L204.47,364.01 L205.61,364.01 L205.61,361.20 L206.76,361.20 L206.76,361.35 L207.91,361.35 L207.91,357.76 L209.05,357.76 L209.05,358.45 L210.20,358.45 L210.20,352.76 L211.34,352.76 L211.34,346.74 L212.49,346.74 L212.49,355.51 L213.64,355.51 L213.64,356.29 L214.78,356.29 L214.78,345.86 L215.93,345.86 L215.93,358.73 L217.07,358.73 L217.07,359.17 L218.22,359.17 L218.22,357.96 L219.36,357.96 L219.36,359.14 L220.51,359.14 L220.51,353.96 L221.66,353.96 L221.66,356.83 L222.80,356.83 L222.80,356.14 L223.95,356.14 L223.95,345.48 L225.09,345.48 L225.09,353.14 L226.24,353.14 L226.24,347.19 L227.39,347.19 L227.39,349.06 L228.53,349.06 L228.53,345.59 L229.68,345.59 L229.68,328.77 L230.82,328.77 L230.82,336.06 L231.97,336.06 L231.97,336.60 L233.11,336.60 L233.11,328.11 L234.26,328.11 L234.26,338.57 L235.41,338.57 L235.41,332.30 L236.55,332.30 L236.55,334.79 L237.70,334.79 L237.70,334.51 L238.84,334.51 L238.84,329.35 L239.99,329.35 L239.99,336.85 L241.14,336.85 L241.14,331.31 L242.28,331.31 L242.28,334.05 L243.43,334.05 L243.43,326.65 L244.57,326.65 L244.57,322.21 L245.72,322.21 L245.72,322.83 L246.86,322.83 L246.86,321.44 L248.01,321.44 L248.01,309.87 L249.16,309.87 L249.16,296.64 L250.30,296.64 L250.30,313.05 L251.45,313.05 L251.45,308.39 L252.59,308.39 L252.59,302.76 L253.74,302.76 L253.74,306.73 L254.89,306.73 L254.89,298.18 L256.03,298.18 L256.03,302.08 L257.18,302.08 L257.18,302.68 L258.32,302.68 L258.32,294.22 L259.47,294.22 L259.47,303.65 L260.61,303.65 L260.61,301.43 L261.76,301.43 L261.76,291.40 L262.91,291.40 L262.91,298.80 L264.05,298.80 L264.05,301.89 L265.20,301.89 L265.20,304.94 L266.34,304.94 L266.34,309.26 L267.49,309.26 L267.49,305.64 L268.64,305.64 L268.64,303.12 L269.78,303.12 L269.78,297.88 L270.93,297.88 L270.93,289.31 L272.07,289.31 L272.07,288.17 L273.22,288.17 L273.22,288.81 L274.36,288.81 L274.36,294.71 L275.51,294.71 L275.51,283.87 L276.66,283.87 L276.66,293.67 L277.80,293.67 L277.80,286.00 L278.95,286.00 L278.95,289.11 L280.09,289.11 L280.09,289.20 L281.24,289.20 L281.24,259.25 L282.39,259.25 L282.39,289.41 L283.53,289.41 L283.53,287.85 L284.68,287.85 L284.68,291.03 L285.82,291.03 L285.82,278.28 L286.97,278.28 L286.97,286.53 L288.11,286.53 L288.11,276.06 L289.26,276.06 L289.26,272.12 L290.41,272.12 L290.41,283.90 L291.55,283.90 L291.55,277.28 L292.70,277.28 L292.70,281.24 L293.84,281.24 L293.84,273.23 L294.99,273.23 L294.99,281.57 L296.14,281.57 L296.14,274.89 L297.28,274.89 L297.28,274.25 L298.43,274.25 L298.43,281.76 L299.57,281.76 L299.57,283.03 L300.72,283.03 L300.72,283.70 L301.86,283.70 L301.86,273.91 L303.01,273.91 L303.01,280.83 L304.16,280.83 L304.16,253.24 L305.30,253.24 L305.30,273.61 L306.45,273.61 L306.45,254.89 L307.59,254.89 L307.59,271.30 L308.74,271.30 L308.74,271.78 L309.89,271.78 L309.89,259.71 L311.03,259.71 L311.03,269.00 L312.18,269.00 L312.18,262.83 L313.32,262.83 L313.32,271.24 L314.47,271.24 L314.47,270.14 L315.61,270.14 L315.61,263.90 L316.76,263.90 L316.76,264.68 L317.91,264.68 L317.91,266.65 L319.05,266.65 L319.05,265.06 L320.20,265.06 L320.20,262.35 L321.34,262.35 L321.34,260.67 L322.49,260.67 L322.49,260.35 L323.64,260.35 L323.64,267.15 L324.78,267.15 L324.78,262.63 L325.93,262.63 L325.93,351.23 L324.78,351.23 L324.78,348.21 L323.64,348.21 L323.64,351.32 L322.49,351.32 L322.49,354.05 L321.34,354.05 L321.34,378.66 L320.20,378.66 L320.20,375.41 L319.05,375.41 L319.05,367.47 L317.91,367.47 L317.91,377.57 L316.76,377.57 L316.76,372.33 L315.61,372.33 L315.61,370.04 L314.47,370.04 L314.47,390.72 L313.32,390.72 L313.32,364.00 L312.18,364.00 L312.18,356.84 L311.03,356.84 L311.03,359.58 L309.89,359.58 L309.89,358.72 L308.74,358.72 L308.74,364.23 L307.59,364.23 L307.59,366.42 L306.45,366.42 L306.45,352.27 L305.30,352.27 L305.30,360.28 L304.16,360.28 L304.16,356.38 L303.01,356.38 L303.01,363.76 L301.86,363.76 L301.86,352.76 L300.72,352.76 L300.72,357.28 L299.57,357.28 L299.57,360.53 L298.43,360.53 L298.43,358.84 L297.28,358.84 L297.28,357.43 L296.14,357.43 L296.14,352.86 L294.99,352.86 L294.99,360.38 L293.84,360.38 L293.84,358.42 L292.70,358.42 L292.70,357.93 L291.55,357.93 L291.55,360.45 L290.41,360.45 L290.41,368.41 L289.26,368.41 L289.26,364.88 L288.11,364.88 L288.11,379.47 L286.97,379.47 L286.97,369.04 L285.82,369.04 L285.82,365.04 L284.68,365.04 L284.68,375.33 L283.53,375.33 L283.53,371.57 L282.39,371.57 L282.39,365.60 L281.24,365.60 L281.24,363.77 L280.09,363.77 L280.09,370.59 L278.95,370.59 L278.95,371.71 L277.80,371.71 L277.80,365.67 L276.66,365.67 L276.66,363.37 L275.51,363.37 L275.51,365.81 L274.36,365.81 L274.36,375.24 L273.22,375.24 L273.22,365.81 L272.07,365.81 L272.07,370.42 L270.93,370.42 L270.93,373.91 L269.78,373.91 L269.78,367.48 L268.64,367.48 L268.64,378.64 L267.49,378.64 L267.49,372.37 L266.34,372.37 L266.34,393.77 L265.20,393.77 L265.20,375.83 L264.05,375.83 L264.05,375.57 L262.91,375.57 L262.91,399.29 L261.76,399.29 L261.76,381.12 L260.61,381.12 L260.61,380.39 L259.47,380.39 L259.47,383.48 L258.32,383.48 L258.32,394.97 L257.18,394.97 L257.18,381.46 L256.03,381.46 L256.03,382.30 L254.89,382.30 L254.89,382.51 L253.74,382.51 L253.74,376.51 L252.59,376.51 L252.59,384.82 L251.45,384.82 L251.45,381.99 L250.30,381.99 L250.30,389.88 L249.16,389.88 L249.16,381.94 L248.01,381.94 L248.01,385.14 L246.86,385.14 L246.86,384.00 L245.72,384.00 L245.72,388.36 L244.57,388.36 L244.57,393.11 L243.43,393.11 L243.43,390.38 L242.28,390.38 L242.28,388.31 L241.14,388.31 L241.14,398.70 L239.99,398.70 L239.99,388.42 L238.84,388.42 L238.84,392.04 L237.70,392.04 L237.70,393.15 L236.55,393.15 L236.55,391.98 L235.41,391.98 L235.41,393.21 L234.26,393.21 L234.26,394.95 L233.11,394.95 L233.11,395.70 L231.97,395.70 L231.97,399.02 L230.82,399.02 L230.82,393.93 L229.68,393.93 L229.68,397.96 L228.53,397.96 L228.53,399.68 L227.39,399.68 L227.39,400.13 L226.24,400.13 L226.24,401.96 L225.09,401.96 L225.09,400.60 L223.95,400.60 L223.95,402.53 L222.80,402.53 L222.80,405.52 L221.66,405.52 L221.66,405.42 L220.51,405.42 L220.51,408.05 L219.36,408.05 L219.36,411.62 L218.22,411.62 L218.22,419.14 L217.07,419.14 L217.07,412.41 L215.93,412.41 L215.93,420.24 L214.78,420.24 L214.78,417.11 L213.64,417.11 L213.64,430.45 L212.49,430.45 L212.49,425.66 L211.34,425.66 L211.34,431.04 L210.20,431.04 L210.20,439.75 L209.05,439.75 L209.05,425.50 L207.91,425.50 L207.91,421.62 L206.76,421.62 L206.76,432.82 L205.61,432.82 L205.61,429.72 L204.47,429.72 L204.47,443.59 L203.32,443.59 L203.32,426.29 L202.18,426.29 L202.18,421.23 L201.03,421.23 L201.03,418.61 L199.89,418.61 L199.89,421.15 L198.74,421.15 L198.74,417.52 L197.59,417.52 L197.59,416.80 L196.45,416.80 L196.45,416.61 L195.30,416.61 L195.30,416.42 L194.16,416.42 L194.16,421.89 L193.01,421.89 L193.01,422.05 L191.86,422.05 L191.86,417.65 L190.72,417.65 L190.72,427.32 L189.57,427.32 L189.57,423.83 L188.43,423.83 L188.43,417.24 L187.28,417.24 L187.28,418.47 L186.14,418.47 L186.14,420.95 L184.99,420.95 L184.99,419.94 L183.84,419.94 L183.84,422.48 L182.70,422.48 L182.70,429.12 L181.55,429.12 L181.55,432.77 L180.41,432.77 L180.41,433.05 L179.26,433.05 L179.26,432.41 L178.11,432.41 L178.11,433.88 L176.97,433.88 L176.97,431.41 L175.82,431.41 L175.82,428.94 L174.68,428.94 L174.68,425.90 L173.53,425.90 L173.53,423.22 L172.39,423.22 L172.39,418.67 L171.24,418.67 L171.24,415.59 L170.09,415.59 L170.09,419.44 L168.95,419.44 L168.95,422.44 L167.80,422.44 L167.80,415.92 L166.66,415.92 L166.66,409.48 L165.51,409.48 L165.51,412.42 L164.36,412.42 L164.36,407.20 L163.22,407.20 L163.22,406.92 L162.07,406.92 L162.07,408.49 L160.93,408.49 L160.93,414.33 L159.78,414.33 L159.78,413.43 L158.64,413.43 L158.64,409.80 L157.49,409.80 L157.49,407.94 L156.34,407.94 L156.34,408.90 L155.20,408.90 L155.20,410.05 L154.05,410.05 L154.05,424.29 L152.91,424.29 L152.91,415.89 L151.76,415.89 L151.76,410.80 L150.61,410.80 L150.61,414.78 L149.47,414.78 L149.47,410.70 L148.32,410.70 L148.32,411.54 L147.18,411.54 L147.18,408.73 L146.03,408.73 L146.03,407.52 L144.89,407.52 L144.89,412.64 L143.74,412.64 L143.74,419.34 L142.59,419.34 L142.59,420.72 L141.45,420.72 L141.45,420.21 L140.30,420.21 L140.30,420.39 L139.16,420.39 L139.16,431.29 L138.01,431.29 L138.01,441.58 L136.86,441.58 L136.86,425.91 L135.72,425.91 L135.72,422.02 L134.57,422.02 L134.57,415.96 L133.43,415.96 L133.43,426.49 L132.28,426.49 L132.28,413.18 L131.14,413.18 L131.14,418.59 L129.99,418.59 L129.99,415.41 L128.84,415.41 L128.84,414.48 L127.70,414.48 L127.70,419.24 L126.55,419.24 L126.55,409.61 L125.41,409.61 L125.41,409.40 L124.26,409.40 L124.26,419.68 L123.11,419.68 L123.11,415.37 L121.97,415.37 L121.97,416.60 L120.82,416.60 L120.82,414.85 L119.68,414.85 L119.68,414.02 L118.53,414.02 L118.53,414.14 L117.39,414.14 L117.39,420.75 L116.24,420.75 L116.24,415.46 L115.09,415.46 L115.09,419.33 L113.95,419.33 L113.95,418.22 L112.80,418.22 L112.80,422.28 L111.66,422.28 L111.66,416.90 L110.51,416.90 L110.51,420.08 L109.36,420.08 L109.36,419.87 L108.22,419.87 L108.22,418.10 L107.07,418.10 L107.07,423.35 L105.93,423.35 L105.93,425.39 L104.78,425.39 L104.78,439.68 L103.64,439.68 L103.64,437.84 L102.49,437.84 L102.49,433.93 L101.34,433.93 L101.34,436.86 L100.20,436.86 L100.20,430.54 L99.05,430.54 L99.05,426.84 L97.91,426.84 L97.91,433.68 L96.76,433.68 L96.76,427.29 L95.61,427.29 L95.61,431.35 L94.47,431.35 L94.47,421.61 L93.32,421.61 L93.32,425.91 L92.18,425.91 L92.18,426.78 L91.03,426.78 L91.03,426.15 L89.89,426.15 L89.89,426.01 L88.74,426.01 L88.74,431.43 L87.59,431.43 L87.59,429.74 L86.45,429.74 L86.45,447.97 L85.30,447.97 L85.30,435.94 L84.16,435.94 L84.16,437.86 L83.01,437.86 L83.01,440.48 L81.86,440.48 L81.86,434.23 L80.72,434.23 L80.72,428.64 L79.57,428.64 L79.57,423.59 L78.43,423.59 L78.43,426.44 L77.28,426.44 L77.28,420.09 L76.14,420.09 L76.14,418.34 L74.99,418.34 L74.99,418.97 L73.84,418.97 L73.84,428.91 L72.70,428.91 L72.70,418.56 L71.55,418.56 L71.55,421.61 L70.41,421.61 L70.41,417.15 L69.26,417.15 L69.26,422.72 L68.11,422.72 L68.11,419.07 L66.97,419.07 L66.97,418.81 L65.82,418.81 L65.82,423.35 L64.68,423.35 L64.68,430.20 L63.53,430.20 L63.53,423.95 L62.39,423.95 L62.39,421.31 L61.24,421.31 L61.24,424.78 L60.09,424.78 L60.09,434.63 L58.95,434.63 L58.95,425.97 L57.80,425.97 L57.80,426.79 L56.66,426.79 L56.66,434.27 L55.51,434.27 L55.51,434.87 L54.36,434.87 L54.36,426.09 L53.22,426.09 L53.22,427.10 L52.07,427.10 L52.07,422.29 L50.93,422.29 Z" fill="#a8a8a8" stroke="none"/>
<line x1="51.50" y1="409.20" x2="326.50" y2="409.20" stroke="#000" stroke-width="1" stroke-dasharray="8.6 5.55" stroke-dashoffset="8.55"/>
<path d="M51.50,410.32 L52.65,409.62 L53.79,410.78 L54.94,408.64 L56.08,409.97 L57.23,407.97 L58.38,408.96 L59.52,406.39 L60.67,404.55 L61.81,407.33 L62.96,400.43 L64.10,409.60 L65.25,393.87 L66.40,411.54 L67.54,402.49 L68.69,408.15 L69.83,405.05 L70.98,407.80 L72.12,412.96 L73.27,412.53 L74.42,412.56 L75.56,408.24 L76.71,403.24 L77.85,411.59 L79.00,418.83 L80.15,415.81 L81.29,431.22 L82.44,431.32 L83.58,429.99 L84.73,430.43 L85.88,416.72 L87.02,412.01 L88.17,411.51 L89.31,406.48 L90.46,411.40 L91.60,410.98 L92.75,405.47 L93.90,411.37 L95.04,408.28 L96.19,414.83 L97.33,409.57 L98.48,414.75 L99.62,418.11 L100.77,425.43 L101.92,424.76 L103.06,424.44 L104.21,420.27 L105.35,413.41 L106.50,415.18 L107.65,406.90 L108.79,415.67 L109.94,401.74 L111.08,407.45 L112.23,402.33 L113.38,404.07 L114.52,398.58 L115.67,407.22 L116.81,397.22 L117.96,399.51 L119.10,408.15 L120.25,400.71 L121.40,400.57 L122.54,402.07 L123.69,401.33 L124.83,397.41 L125.98,398.95 L127.12,397.23 L128.27,400.15 L129.42,401.83 L130.56,398.43 L131.71,403.55 L132.85,403.44 L134.00,402.99 L135.15,401.43 L136.29,411.69 L137.44,410.03 L138.58,412.57 L139.73,398.88 L140.88,397.01 L142.02,394.05 L143.17,399.36 L144.31,395.48 L145.46,393.28 L146.60,393.34 L147.75,395.02 L148.90,398.02 L150.04,396.16 L151.19,395.46 L152.33,396.97 L153.48,398.87 L154.62,390.86 L155.77,400.45 L156.92,401.50 L158.06,398.19 L159.21,394.29 L160.35,395.31 L161.50,392.35 L162.65,391.80 L163.79,395.62 L164.94,397.23 L166.08,390.33 L167.23,392.62 L168.38,398.05 L169.52,402.12 L170.67,401.15 L171.81,404.81 L172.96,413.30 L174.10,416.60 L175.25,416.87 L176.40,419.56 L177.54,413.11 L178.69,410.42 L179.83,410.61 L180.98,409.36 L182.12,413.25 L183.27,414.74 L184.42,405.22 L185.56,407.85 L186.71,403.90 L187.85,402.02 L189.00,398.70 L190.15,402.37 L191.29,398.46 L192.44,398.08 L193.58,395.96 L194.73,395.80 L195.88,394.21 L197.02,385.68 L198.17,392.51 L199.31,383.90 L200.46,388.29 L201.60,380.01 L202.75,397.03 L203.90,387.87 L205.04,389.15 L206.19,393.46 L207.33,391.28 L208.48,396.98 L209.62,394.15 L210.77,388.98 L211.92,387.30 L213.06,388.57 L214.21,380.97 L215.35,379.92 L216.50,383.72 L217.65,385.04 L218.79,381.71 L219.94,377.32 L221.08,381.44 L222.23,368.83 L223.38,367.29 L224.52,375.69 L225.67,366.78 L226.81,368.96 L227.96,359.19 L229.10,359.76 L230.25,361.87 L231.40,363.43 L232.54,361.25 L233.69,371.61 L234.83,374.75 L235.98,364.18 L237.12,364.74 L238.27,360.54 L239.42,364.48 L240.56,358.03 L241.71,358.48 L242.85,369.82 L244.00,354.30 L245.15,357.51 L246.29,362.84 L247.44,354.15 L248.58,358.62 L249.73,347.83 L250.88,358.64 L252.02,351.45 L253.17,349.84 L254.31,347.83 L255.46,346.83 L256.60,337.94 L257.75,343.92 L258.90,336.64 L260.04,343.62 L261.19,342.79 L262.33,338.58 L263.48,350.27 L264.62,344.75 L265.77,342.67 L266.92,343.40 L268.06,339.52 L269.21,332.85 L270.35,338.49 L271.50,329.04 L272.65,324.78 L273.79,323.44 L274.94,320.46 L276.08,327.25 L277.23,328.07 L278.38,327.11 L279.52,336.52 L280.67,330.36 L281.81,328.42 L282.96,318.05 L284.10,327.75 L285.25,319.06 L286.40,323.74 L287.54,319.50 L288.69,320.65 L289.83,323.27 L290.98,314.25 L292.12,331.15 L293.27,321.24 L294.42,321.78 L295.56,317.95 L296.71,319.54 L297.85,307.15 L299.00,316.48 L300.15,318.08 L301.29,315.31 L302.44,315.43 L303.58,313.54 L304.73,315.15 L305.88,311.42 L307.02,311.28 L308.17,298.36 L309.31,303.43 L310.46,319.32 L311.60,307.79 L312.75,319.20 L313.90,306.55 L315.04,311.24 L316.19,317.31 L317.33,316.58 L318.48,310.54 L319.62,309.59 L320.77,303.18 L321.92,308.36 L323.06,302.28 L324.21,304.40 L325.35,304.31" fill="none" stroke="#000" stroke-width="3.8" stroke-linejoin="round"/>
<path d="M190.50,415.80 L192.20,396.30 L193.50,405.60 L195.60,416.60 L197.70,400.60 L199.80,395.50 L201.50,402.30 L203.20,381.10 L204.90,368.50 L206.60,381.10 L207.40,370.10 L209.10,387.00 L211.20,396.30 L213.30,411.60 L215.00,393.80 L216.70,372.70 L218.40,371.00 L219.70,381.10 L220.90,390.40" fill="none" stroke="#00f000" stroke-width="2" stroke-linejoin="round"/>
</g>
<g clip-path="url(#clipd)">
<path d="M359.93,369.26 L361.07,369.26 L361.07,359.62 L362.21,359.62 L362.21,366.73 L363.35,366.73 L363.35,362.02 L364.50,362.02 L364.50,355.18 L365.64,355.18 L365.64,352.05 L366.78,352.05 L366.78,352.39 L367.92,352.39 L367.92,355.85 L369.06,355.85 L369.06,359.15 L370.20,359.15 L370.20,362.85 L371.35,362.85 L371.35,350.45 L372.49,350.45 L372.49,345.07 L373.63,345.07 L373.63,359.64 L374.77,359.64 L374.77,361.06 L375.91,361.06 L375.91,352.05 L377.05,352.05 L377.05,343.49 L378.20,343.49 L378.20,358.74 L379.34,358.74 L379.34,352.42 L380.48,352.42 L380.48,361.32 L381.62,361.32 L381.62,354.35 L382.76,354.35 L382.76,356.99 L383.90,356.99 L383.90,355.21 L385.05,355.21 L385.05,366.50 L386.19,366.50 L386.19,366.81 L387.33,366.81 L387.33,358.20 L388.47,358.20 L388.47,363.39 L389.61,363.39 L389.61,361.41 L390.75,361.41 L390.75,359.74 L391.90,359.74 L391.90,353.33 L393.04,353.33 L393.04,346.37 L394.18,346.37 L394.18,325.85 L395.32,325.85 L395.32,336.10 L396.46,336.10 L396.46,340.40 L397.60,340.40 L397.60,340.32 L398.75,340.32 L398.75,358.07 L399.89,358.07 L399.89,358.92 L401.03,358.92 L401.03,346.44 L402.17,346.44 L402.17,355.77 L403.31,355.77 L403.31,357.88 L404.45,357.88 L404.45,360.34 L405.60,360.34 L405.60,351.15 L406.74,351.15 L406.74,350.89 L407.88,350.89 L407.88,352.89 L409.02,352.89 L409.02,353.78 L410.16,353.78 L410.16,353.34 L411.30,353.34 L411.30,346.55 L412.45,346.55 L412.45,343.27 L413.59,343.27 L413.59,338.85 L414.73,338.85 L414.73,342.19 L415.87,342.19 L415.87,344.15 L417.01,344.15 L417.01,347.80 L418.15,347.80 L418.15,355.40 L419.30,355.40 L419.30,337.38 L420.44,337.38 L420.44,365.41 L421.58,365.41 L421.58,364.39 L422.72,364.39 L422.72,342.59 L423.86,342.59 L423.86,355.95 L425.00,355.95 L425.00,362.28 L426.15,362.28 L426.15,359.40 L427.29,359.40 L427.29,357.04 L428.43,357.04 L428.43,354.73 L429.57,354.73 L429.57,344.77 L430.71,344.77 L430.71,351.52 L431.85,351.52 L431.85,350.25 L433.00,350.25 L433.00,339.93 L434.14,339.93 L434.14,331.74 L435.28,331.74 L435.28,344.34 L436.42,344.34 L436.42,340.46 L437.56,340.46 L437.56,348.45 L438.70,348.45 L438.70,346.78 L439.85,346.78 L439.85,346.23 L440.99,346.23 L440.99,346.11 L442.13,346.11 L442.13,338.60 L443.27,338.60 L443.27,331.72 L444.41,331.72 L444.41,327.60 L445.55,327.60 L445.55,330.21 L446.70,330.21 L446.70,350.74 L447.84,350.74 L447.84,340.43 L448.98,340.43 L448.98,349.91 L450.12,349.91 L450.12,357.32 L451.26,357.32 L451.26,351.99 L452.40,351.99 L452.40,356.27 L453.55,356.27 L453.55,361.77 L454.69,361.77 L454.69,363.62 L455.83,363.62 L455.83,348.52 L456.97,348.52 L456.97,362.45 L458.11,362.45 L458.11,363.44 L459.25,363.44 L459.25,367.35 L460.40,367.35 L460.40,371.02 L461.54,371.02 L461.54,369.99 L462.68,369.99 L462.68,373.45 L463.82,373.45 L463.82,366.06 L464.96,366.06 L464.96,369.53 L466.10,369.53 L466.10,359.29 L467.25,359.29 L467.25,365.40 L468.39,365.40 L468.39,355.81 L469.53,355.81 L469.53,343.13 L470.67,343.13 L470.67,344.08 L471.81,344.08 L471.81,356.82 L472.95,356.82 L472.95,356.44 L474.10,356.44 L474.10,359.33 L475.24,359.33 L475.24,353.89 L476.38,353.89 L476.38,353.70 L477.52,353.70 L477.52,354.46 L478.66,354.46 L478.66,355.52 L479.80,355.52 L479.80,360.79 L480.95,360.79 L480.95,344.78 L482.09,344.78 L482.09,359.62 L483.23,359.62 L483.23,352.34 L484.37,352.34 L484.37,360.66 L485.51,360.66 L485.51,358.26 L486.65,358.26 L486.65,365.40 L487.80,365.40 L487.80,357.64 L488.94,357.64 L488.94,367.75 L490.08,367.75 L490.08,364.07 L491.22,364.07 L491.22,361.38 L492.36,361.38 L492.36,358.06 L493.50,358.06 L493.50,349.86 L494.65,349.86 L494.65,345.86 L495.79,345.86 L495.79,350.71 L496.93,350.71 L496.93,350.74 L498.07,350.74 L498.07,350.18 L499.21,350.18 L499.21,351.81 L500.35,351.81 L500.35,334.45 L501.50,334.45 L501.50,354.90 L502.64,354.90 L502.64,361.14 L503.78,361.14 L503.78,346.09 L504.92,346.09 L504.92,355.12 L506.06,355.12 L506.06,364.21 L507.20,364.21 L507.20,363.57 L508.35,363.57 L508.35,354.87 L509.49,354.87 L509.49,359.21 L510.63,359.21 L510.63,355.05 L511.77,355.05 L511.77,347.98 L512.91,347.98 L512.91,334.19 L514.05,334.19 L514.05,360.18 L515.20,360.18 L515.20,353.81 L516.34,353.81 L516.34,352.32 L517.48,352.32 L517.48,334.26 L518.62,334.26 L518.62,342.29 L519.76,342.29 L519.76,337.39 L520.90,337.39 L520.90,326.47 L522.05,326.47 L522.05,309.62 L523.19,309.62 L523.19,343.85 L524.33,343.85 L524.33,342.94 L525.47,342.94 L525.47,327.69 L526.61,327.69 L526.61,338.04 L527.75,338.04 L527.75,316.90 L528.90,316.90 L528.90,328.08 L530.04,328.08 L530.04,339.21 L531.18,339.21 L531.18,342.18 L532.32,342.18 L532.32,320.04 L533.46,320.04 L533.46,340.10 L534.60,340.10 L534.60,337.87 L535.75,337.87 L535.75,326.87 L536.89,326.87 L536.89,335.70 L538.03,335.70 L538.03,338.04 L539.17,338.04 L539.17,338.84 L540.31,338.84 L540.31,333.72 L541.45,333.72 L541.45,331.71 L542.60,331.71 L542.60,329.28 L543.74,329.28 L543.74,326.71 L544.88,326.71 L544.88,326.19 L546.02,326.19 L546.02,331.57 L547.16,331.57 L547.16,334.69 L548.30,334.69 L548.30,340.82 L549.45,340.82 L549.45,334.54 L550.59,334.54 L550.59,304.97 L551.73,304.97 L551.73,333.56 L552.87,333.56 L552.87,320.03 L554.01,320.03 L554.01,301.32 L555.15,301.32 L555.15,306.86 L556.30,306.86 L556.30,312.62 L557.44,312.62 L557.44,311.24 L558.58,311.24 L558.58,318.31 L559.72,318.31 L559.72,319.52 L560.86,319.52 L560.86,321.16 L562.00,321.16 L562.00,317.21 L563.15,317.21 L563.15,306.85 L564.29,306.85 L564.29,311.50 L565.43,311.50 L565.43,292.13 L566.57,292.13 L566.57,294.30 L567.71,294.30 L567.71,301.46 L568.85,301.46 L568.85,298.38 L570.00,298.38 L570.00,304.06 L571.14,304.06 L571.14,310.64 L572.28,310.64 L572.28,314.14 L573.42,314.14 L573.42,312.37 L574.56,312.37 L574.56,307.75 L575.70,307.75 L575.70,292.28 L576.85,292.28 L576.85,304.27 L577.99,304.27 L577.99,293.56 L579.13,293.56 L579.13,300.67 L580.27,300.67 L580.27,296.57 L581.41,296.57 L581.41,299.92 L582.55,299.92 L582.55,302.00 L583.70,302.00 L583.70,287.69 L584.84,287.69 L584.84,295.27 L585.98,295.27 L585.98,293.50 L587.12,293.50 L587.12,297.78 L588.26,297.78 L588.26,293.92 L589.40,293.92 L589.40,284.47 L590.55,284.47 L590.55,286.14 L591.69,286.14 L591.69,287.13 L592.83,287.13 L592.83,281.90 L593.97,281.90 L593.97,282.94 L595.11,282.94 L595.11,280.98 L596.25,280.98 L596.25,264.61 L597.40,264.61 L597.40,283.90 L598.54,283.90 L598.54,280.83 L599.68,280.83 L599.68,290.62 L600.82,290.62 L600.82,282.11 L601.96,282.11 L601.96,270.04 L603.10,270.04 L603.10,277.54 L604.25,277.54 L604.25,280.39 L605.39,280.39 L605.39,280.83 L606.53,280.83 L606.53,277.55 L607.67,277.55 L607.67,277.35 L608.81,277.35 L608.81,262.60 L609.95,262.60 L609.95,261.52 L611.10,261.52 L611.10,278.95 L612.24,278.95 L612.24,274.89 L613.38,274.89 L613.38,256.24 L614.52,256.24 L614.52,273.35 L615.66,273.35 L615.66,262.44 L616.80,262.44 L616.80,277.95 L617.95,277.95 L617.95,264.64 L619.09,264.64 L619.09,263.80 L620.23,263.80 L620.23,280.09 L621.37,280.09 L621.37,270.41 L622.51,270.41 L622.51,222.51 L623.65,222.51 L623.65,264.53 L624.80,264.53 L624.80,262.49 L625.94,262.49 L625.94,258.10 L627.08,258.10 L627.08,247.48 L628.22,247.48 L628.22,221.63 L629.36,221.63 L629.36,252.03 L630.50,252.03 L630.50,260.22 L631.65,260.22 L631.65,267.10 L632.79,267.10 L632.79,259.79 L633.93,259.79 L633.93,373.17 L632.79,373.17 L632.79,372.71 L631.65,372.71 L631.65,373.52 L630.50,373.52 L630.50,379.38 L629.36,379.38 L629.36,396.44 L628.22,396.44 L628.22,388.29 L627.08,388.29 L627.08,390.21 L625.94,390.21 L625.94,389.36 L624.80,389.36 L624.80,391.76 L623.65,391.76 L623.65,391.88 L622.51,391.88 L622.51,406.99 L621.37,406.99 L621.37,383.32 L620.23,383.32 L620.23,395.02 L619.09,395.02 L619.09,387.17 L617.95,387.17 L617.95,382.30 L616.80,382.30 L616.80,376.76 L615.66,376.76 L615.66,373.16 L614.52,373.16 L614.52,381.21 L613.38,381.21 L613.38,378.02 L612.24,378.02 L612.24,395.00 L611.10,395.00 L611.10,388.18 L609.95,388.18 L609.95,393.32 L608.81,393.32 L608.81,394.84 L607.67,394.84 L607.67,397.97 L606.53,397.97 L606.53,401.15 L605.39,401.15 L605.39,394.76 L604.25,394.76 L604.25,392.87 L603.10,392.87 L603.10,406.54 L601.96,406.54 L601.96,407.78 L600.82,407.78 L600.82,403.96 L599.68,403.96 L599.68,393.85 L598.54,393.85 L598.54,395.31 L597.40,395.31 L597.40,384.57 L596.25,384.57 L596.25,384.31 L595.11,384.31 L595.11,383.80 L593.97,383.80 L593.97,385.13 L592.83,385.13 L592.83,400.88 L591.69,400.88 L591.69,383.46 L590.55,383.46 L590.55,400.41 L589.40,400.41 L589.40,409.57 L588.26,409.57 L588.26,392.22 L587.12,392.22 L587.12,391.96 L585.98,391.96 L585.98,378.88 L584.84,378.88 L584.84,386.44 L583.70,386.44 L583.70,397.25 L582.55,397.25 L582.55,391.23 L581.41,391.23 L581.41,390.45 L580.27,390.45 L580.27,394.15 L579.13,394.15 L579.13,397.66 L577.99,397.66 L577.99,397.14 L576.85,397.14 L576.85,398.31 L575.70,398.31 L575.70,400.94 L574.56,400.94 L574.56,409.51 L573.42,409.51 L573.42,414.43 L572.28,414.43 L572.28,439.40 L571.14,439.40 L571.14,416.54 L570.00,416.54 L570.00,412.31 L568.85,412.31 L568.85,410.84 L567.71,410.84 L567.71,395.13 L566.57,395.13 L566.57,395.28 L565.43,395.28 L565.43,411.18 L564.29,411.18 L564.29,404.17 L563.15,404.17 L563.15,396.70 L562.00,396.70 L562.00,405.73 L560.86,405.73 L560.86,407.15 L559.72,407.15 L559.72,401.06 L558.58,401.06 L558.58,405.02 L557.44,405.02 L557.44,402.75 L556.30,402.75 L556.30,412.21 L555.15,412.21 L555.15,402.46 L554.01,402.46 L554.01,411.97 L552.87,411.97 L552.87,426.33 L551.73,426.33 L551.73,418.69 L550.59,418.69 L550.59,401.42 L549.45,401.42 L549.45,403.43 L548.30,403.43 L548.30,407.08 L547.16,407.08 L547.16,407.44 L546.02,407.44 L546.02,406.43 L544.88,406.43 L544.88,407.30 L543.74,407.30 L543.74,405.35 L542.60,405.35 L542.60,411.09 L541.45,411.09 L541.45,415.66 L540.31,415.66 L540.31,420.02 L539.17,420.02 L539.17,420.00 L538.03,420.00 L538.03,425.72 L536.89,425.72 L536.89,448.22 L535.75,448.22 L535.75,410.54 L534.60,410.54 L534.60,411.27 L533.46,411.27 L533.46,409.23 L532.32,409.23 L532.32,432.15 L531.18,432.15 L531.18,418.56 L530.04,418.56 L530.04,410.25 L528.90,410.25 L528.90,410.81 L527.75,410.81 L527.75,414.54 L526.61,414.54 L526.61,418.48 L525.47,418.48 L525.47,418.83 L524.33,418.83 L524.33,415.46 L523.19,415.46 L523.19,419.35 L522.05,419.35 L522.05,416.15 L520.90,416.15 L520.90,411.87 L519.76,411.87 L519.76,414.19 L518.62,414.19 L518.62,415.41 L517.48,415.41 L517.48,422.06 L516.34,422.06 L516.34,420.39 L515.20,420.39 L515.20,423.45 L514.05,423.45 L514.05,432.29 L512.91,432.29 L512.91,443.82 L511.77,443.82 L511.77,446.31 L510.63,446.31 L510.63,441.42 L509.49,441.42 L509.49,431.84 L508.35,431.84 L508.35,430.38 L507.20,430.38 L507.20,434.23 L506.06,434.23 L506.06,447.68 L504.92,447.68 L504.92,428.54 L503.78,428.54 L503.78,430.34 L502.64,430.34 L502.64,439.44 L501.50,439.44 L501.50,428.63 L500.35,428.63 L500.35,441.91 L499.21,441.91 L499.21,457.31 L498.07,457.31 L498.07,432.96 L496.93,432.96 L496.93,431.80 L495.79,431.80 L495.79,423.83 L494.65,423.83 L494.65,426.48 L493.50,426.48 L493.50,437.72 L492.36,437.72 L492.36,420.40 L491.22,420.40 L491.22,423.36 L490.08,423.36 L490.08,419.51 L488.94,419.51 L488.94,417.25 L487.80,417.25 L487.80,420.05 L486.65,420.05 L486.65,411.84 L485.51,411.84 L485.51,414.81 L484.37,414.81 L484.37,412.68 L483.23,412.68 L483.23,414.35 L482.09,414.35 L482.09,414.46 L480.95,414.46 L480.95,418.08 L479.80,418.08 L479.80,419.07 L478.66,419.07 L478.66,419.25 L477.52,419.25 L477.52,424.83 L476.38,424.83 L476.38,421.81 L475.24,421.81 L475.24,428.42 L474.10,428.42 L474.10,422.92 L472.95,422.92 L472.95,422.05 L471.81,422.05 L471.81,426.68 L470.67,426.68 L470.67,430.69 L469.53,430.69 L469.53,428.07 L468.39,428.07 L468.39,425.22 L467.25,425.22 L467.25,416.01 L466.10,416.01 L466.10,421.79 L464.96,421.79 L464.96,422.38 L463.82,422.38 L463.82,415.58 L462.68,415.58 L462.68,413.54 L461.54,413.54 L461.54,415.35 L460.40,415.35 L460.40,416.10 L459.25,416.10 L459.25,408.23 L458.11,408.23 L458.11,412.54 L456.97,412.54 L456.97,410.71 L455.83,410.71 L455.83,404.47 L454.69,404.47 L454.69,407.76 L453.55,407.76 L453.55,425.60 L452.40,425.60 L452.40,420.82 L451.26,420.82 L451.26,411.59 L450.12,411.59 L450.12,417.80 L448.98,417.80 L448.98,403.05 L447.84,403.05 L447.84,394.87 L446.70,394.87 L446.70,399.75 L445.55,399.75 L445.55,391.33 L444.41,391.33 L444.41,394.38 L443.27,394.38 L443.27,398.22 L442.13,398.22 L442.13,392.40 L440.99,392.40 L440.99,401.72 L439.85,401.72 L439.85,392.43 L438.70,392.43 L438.70,396.67 L437.56,396.67 L437.56,395.47 L436.42,395.47 L436.42,393.71 L435.28,393.71 L435.28,408.85 L434.14,408.85 L434.14,393.88 L433.00,393.88 L433.00,390.48 L431.85,390.48 L431.85,395.99 L430.71,395.99 L430.71,401.40 L429.57,401.40 L429.57,396.20 L428.43,396.20 L428.43,400.76 L427.29,400.76 L427.29,401.06 L426.15,401.06 L426.15,401.57 L425.00,401.57 L425.00,405.85 L423.86,405.85 L423.86,406.35 L422.72,406.35 L422.72,407.45 L421.58,407.45 L421.58,407.19 L420.44,407.19 L420.44,432.72 L419.30,432.72 L419.30,419.06 L418.15,419.06 L418.15,411.57 L417.01,411.57 L417.01,414.10 L415.87,414.10 L415.87,403.84 L414.73,403.84 L414.73,408.42 L413.59,408.42 L413.59,412.37 L412.45,412.37 L412.45,406.82 L411.30,406.82 L411.30,428.41 L410.16,428.41 L410.16,437.08 L409.02,437.08 L409.02,434.26 L407.88,434.26 L407.88,420.73 L406.74,420.73 L406.74,407.00 L405.60,407.00 L405.60,407.59 L404.45,407.59 L404.45,400.61 L403.31,400.61 L403.31,411.02 L402.17,411.02 L402.17,400.98 L401.03,400.98 L401.03,404.79 L399.89,404.79 L399.89,404.43 L398.75,404.43 L398.75,421.93 L397.60,421.93 L397.60,415.64 L396.46,415.64 L396.46,407.01 L395.32,407.01 L395.32,415.42 L394.18,415.42 L394.18,414.44 L393.04,414.44 L393.04,411.07 L391.90,411.07 L391.90,413.37 L390.75,413.37 L390.75,421.25 L389.61,421.25 L389.61,419.70 L388.47,419.70 L388.47,418.75 L387.33,418.75 L387.33,418.47 L386.19,418.47 L386.19,423.02 L385.05,423.02 L385.05,424.17 L383.90,424.17 L383.90,413.89 L382.76,413.89 L382.76,430.24 L381.62,430.24 L381.62,408.31 L380.48,408.31 L380.48,408.62 L379.34,408.62 L379.34,398.81 L378.20,398.81 L378.20,413.54 L377.05,413.54 L377.05,404.20 L375.91,404.20 L375.91,395.77 L374.77,395.77 L374.77,399.60 L373.63,399.60 L373.63,404.98 L372.49,404.98 L372.49,406.44 L371.35,406.44 L371.35,400.46 L370.20,400.46 L370.20,401.64 L369.06,401.64 L369.06,405.01 L367.92,405.01 L367.92,398.96 L366.78,398.96 L366.78,397.18 L365.64,397.18 L365.64,396.68 L364.50,396.68 L364.50,397.88 L363.35,397.88 L363.35,395.85 L362.21,395.85 L362.21,409.89 L361.07,409.89 L361.07,396.53 L359.93,396.53 Z" fill="#a8a8a8" stroke="none"/>
<line x1="360.50" y1="382.50" x2="634.50" y2="382.50" stroke="#000" stroke-width="1" stroke-dasharray="8.6 5.55" stroke-dashoffset="8.55"/>
<path d="M360.50,376.36 L361.64,377.61 L362.78,376.17 L363.93,371.63 L365.07,374.17 L366.21,369.81 L367.35,376.19 L368.49,376.30 L369.63,389.59 L370.77,381.09 L371.92,393.67 L373.06,391.25 L374.20,391.94 L375.34,391.72 L376.48,384.27 L377.62,381.56 L378.77,382.66 L379.91,381.62 L381.05,382.75 L382.19,378.63 L383.33,383.19 L384.48,388.10 L385.62,389.65 L386.76,392.36 L387.90,396.96 L389.04,392.58 L390.18,382.04 L391.32,378.56 L392.47,381.75 L393.61,384.01 L394.75,382.49 L395.89,376.37 L397.03,381.31 L398.18,383.53 L399.32,384.33 L400.46,385.90 L401.60,383.78 L402.74,375.34 L403.88,381.16 L405.02,381.09 L406.17,378.21 L407.31,384.28 L408.45,374.99 L409.59,375.75 L410.73,374.68 L411.88,376.93 L413.02,375.92 L414.16,380.45 L415.30,370.39 L416.44,378.52 L417.58,375.39 L418.73,374.56 L419.87,387.34 L421.01,395.99 L422.15,392.48 L423.29,385.78 L424.43,380.04 L425.57,372.89 L426.72,376.63 L427.86,381.75 L429.00,379.98 L430.14,377.28 L431.28,373.76 L432.43,373.91 L433.57,374.71 L434.71,364.16 L435.85,380.01 L436.99,377.64 L438.13,374.38 L439.27,379.62 L440.42,363.56 L441.56,368.86 L442.70,362.87 L443.84,368.70 L444.98,366.42 L446.12,371.63 L447.27,378.14 L448.41,388.02 L449.55,383.08 L450.69,368.66 L451.83,373.64 L452.98,367.62 L454.12,370.89 L455.26,374.50 L456.40,383.56 L457.54,380.47 L458.68,385.44 L459.82,391.10 L460.97,395.62 L462.11,393.50 L463.25,394.81 L464.39,401.79 L465.53,400.16 L466.68,395.41 L467.82,387.64 L468.96,388.62 L470.10,388.13 L471.24,389.54 L472.38,386.89 L473.52,372.54 L474.67,388.59 L475.81,387.31 L476.95,392.82 L478.09,394.61 L479.23,396.88 L480.38,389.68 L481.52,390.21 L482.66,391.22 L483.80,388.26 L484.94,403.54 L486.08,391.63 L487.23,399.09 L488.37,401.46 L489.51,410.51 L490.65,399.02 L491.79,412.76 L492.93,401.08 L494.07,401.56 L495.22,401.78 L496.36,387.71 L497.50,394.25 L498.64,392.32 L499.78,402.53 L500.92,407.58 L502.07,402.54 L503.21,394.10 L504.35,406.06 L505.49,395.86 L506.63,405.71 L507.77,398.69 L508.92,403.18 L510.06,401.08 L511.20,404.56 L512.34,399.63 L513.48,390.30 L514.62,386.60 L515.77,389.86 L516.91,382.03 L518.05,375.65 L519.19,368.11 L520.33,363.26 L521.48,367.55 L522.62,379.00 L523.76,379.56 L524.90,383.29 L526.04,380.98 L527.18,380.19 L528.33,376.50 L529.47,378.95 L530.61,374.46 L531.75,377.43 L532.89,381.19 L534.03,380.75 L535.17,385.46 L536.32,387.74 L537.46,381.08 L538.60,375.55 L539.74,366.04 L540.88,359.50 L542.02,365.79 L543.17,363.72 L544.31,367.46 L545.45,369.13 L546.59,372.59 L547.73,377.07 L548.88,382.49 L550.02,380.55 L551.16,376.50 L552.30,381.78 L553.44,361.08 L554.58,361.83 L555.73,364.41 L556.87,367.53 L558.01,360.99 L559.15,361.01 L560.29,355.08 L561.43,353.87 L562.58,355.87 L563.72,351.22 L564.86,362.11 L566.00,355.19 L567.14,353.92 L568.28,353.60 L569.42,353.07 L570.57,364.34 L571.71,357.63 L572.85,358.43 L573.99,356.17 L575.13,367.72 L576.27,361.21 L577.42,364.98 L578.56,351.00 L579.70,348.04 L580.84,353.04 L581.98,337.00 L583.12,329.57 L584.27,319.88 L585.41,323.65 L586.55,324.59 L587.69,336.16 L588.83,332.19 L589.98,335.18 L591.12,334.11 L592.26,336.61 L593.40,331.09 L594.54,333.48 L595.68,331.30 L596.83,318.72 L597.97,322.96 L599.11,330.48 L600.25,335.60 L601.39,340.62 L602.53,344.85 L603.67,343.02 L604.82,343.28 L605.96,333.45 L607.10,340.46 L608.24,330.67 L609.38,333.51 L610.52,321.95 L611.67,325.20 L612.81,315.38 L613.95,322.31 L615.09,317.65 L616.23,320.33 L617.38,339.82 L618.52,332.47 L619.66,332.65 L620.80,329.31 L621.94,327.20 L623.08,338.24 L624.22,327.93 L625.37,316.66 L626.51,302.12 L627.65,312.17 L628.79,312.25 L629.93,320.32 L631.08,308.98 L632.22,320.83 L633.36,314.34" fill="none" stroke="#000" stroke-width="3.8" stroke-linejoin="round"/>
<path d="M498.90,392.80 L499.90,416.50 L503.80,369.20 L508.70,356.40 L509.70,398.80 L512.10,446.10 L514.70,398.80 L517.60,359.30 L520.60,319.90 L522.50,369.20 L525.10,396.80 L527.50,349.40 L528.90,326.80" fill="none" stroke="#00f000" stroke-width="2" stroke-linejoin="round"/>
</g>
<g clip-path="url(#clipe)">
<path d="M50.93,498.61 L52.07,498.61 L52.07,495.19 L53.22,495.19 L53.22,495.93 L54.36,495.93 L54.36,493.01 L55.51,493.01 L55.51,489.04 L56.66,489.04 L56.66,495.40 L57.80,495.40 L57.80,494.80 L58.95,494.80 L58.95,490.53 L60.09,490.53 L60.09,485.60 L61.24,485.60 L61.24,489.81 L62.39,489.81 L62.39,495.98 L63.53,495.98 L63.53,494.45 L64.68,494.45 L64.68,499.20 L65.82,499.20 L65.82,495.60 L66.97,495.60 L66.97,499.75 L68.11,499.75 L68.11,503.14 L69.26,503.14 L69.26,502.04 L70.41,502.04 L70.41,492.52 L71.55,492.52 L71.55,493.04 L72.70,493.04 L72.70,494.95 L73.84,494.95 L73.84,487.76 L74.99,487.76 L74.99,483.63 L76.14,483.63 L76.14,484.42 L77.28,484.42 L77.28,478.63 L78.43,478.63 L78.43,472.67 L79.57,472.67 L79.57,475.06 L80.72,475.06 L80.72,478.57 L81.86,478.57 L81.86,478.59 L83.01,478.59 L83.01,472.97 L84.16,472.97 L84.16,480.39 L85.30,480.39 L85.30,481.61 L86.45,481.61 L86.45,491.28 L87.59,491.28 L87.59,488.80 L88.74,488.80 L88.74,488.10 L89.89,488.10 L89.89,487.72 L91.03,487.72 L91.03,487.31 L92.18,487.31 L92.18,492.10 L93.32,492.10 L93.32,489.02 L94.47,489.02 L94.47,489.54 L95.61,489.54 L95.61,487.15 L96.76,487.15 L96.76,485.02 L97.91,485.02 L97.91,490.41 L99.05,490.41 L99.05,485.75 L100.20,485.75 L100.20,487.48 L101.34,487.48 L101.34,490.71 L102.49,490.71 L102.49,491.55 L103.64,491.55 L103.64,490.64 L104.78,490.64 L104.78,494.79 L105.93,494.79 L105.93,489.43 L107.07,489.43 L107.07,495.02 L108.22,495.02 L108.22,496.95 L109.36,496.95 L109.36,494.62 L110.51,494.62 L110.51,496.67 L111.66,496.67 L111.66,495.81 L112.80,495.81 L112.80,489.49 L113.95,489.49 L113.95,494.61 L115.09,494.61 L115.09,488.22 L116.24,488.22 L116.24,495.98 L117.39,495.98 L117.39,495.15 L118.53,495.15 L118.53,495.94 L119.68,495.94 L119.68,494.91 L120.82,494.91 L120.82,496.06 L121.97,496.06 L121.97,495.70 L123.11,495.70 L123.11,493.73 L124.26,493.73 L124.26,494.13 L125.41,494.13 L125.41,496.49 L126.55,496.49 L126.55,496.37 L127.70,496.37 L127.70,493.84 L128.84,493.84 L128.84,489.94 L129.99,489.94 L129.99,482.92 L131.14,482.92 L131.14,490.09 L132.28,490.09 L132.28,496.59 L133.43,496.59 L133.43,491.59 L134.57,491.59 L134.57,495.74 L135.72,495.74 L135.72,492.52 L136.86,492.52 L136.86,491.50 L138.01,491.50 L138.01,499.97 L139.16,499.97 L139.16,498.50 L140.30,498.50 L140.30,501.43 L141.45,501.43 L141.45,496.58 L142.59,496.58 L142.59,502.41 L143.74,502.41 L143.74,498.31 L144.89,498.31 L144.89,503.50 L146.03,503.50 L146.03,500.63 L147.18,500.63 L147.18,501.27 L148.32,501.27 L148.32,491.76 L149.47,491.76 L149.47,496.77 L150.61,496.77 L150.61,494.27 L151.76,494.27 L151.76,497.10 L152.91,497.10 L152.91,491.77 L154.05,491.77 L154.05,495.06 L155.20,495.06 L155.20,485.96 L156.34,485.96 L156.34,493.66 L157.49,493.66 L157.49,487.87 L158.64,487.87 L158.64,490.44 L159.78,490.44 L159.78,490.10 L160.93,490.10 L160.93,491.96 L162.07,491.96 L162.07,492.97 L163.22,492.97 L163.22,493.23 L164.36,493.23 L164.36,495.78 L165.51,495.78 L165.51,492.69 L166.66,492.69 L166.66,484.19 L167.80,484.19 L167.80,490.14 L168.95,490.14 L168.95,492.36 L170.09,492.36 L170.09,489.36 L171.24,489.36 L171.24,486.60 L172.39,486.60 L172.39,486.56 L173.53,486.56 L173.53,485.72 L174.68,485.72 L174.68,487.26 L175.82,487.26 L175.82,481.94 L176.97,481.94 L176.97,487.68 L178.11,487.68 L178.11,484.17 L179.26,484.17 L179.26,481.36 L180.41,481.36 L180.41,480.96 L181.55,480.96 L181.55,487.05 L182.70,487.05 L182.70,483.04 L183.84,483.04 L183.84,488.58 L184.99,488.58 L184.99,492.90 L186.14,492.90 L186.14,494.75 L187.28,494.75 L187.28,490.02 L188.43,490.02 L188.43,488.68 L189.57,488.68 L189.57,493.49 L190.72,493.49 L190.72,495.51 L191.86,495.51 L191.86,493.47 L193.01,493.47 L193.01,493.63 L194.16,493.63 L194.16,495.93 L195.30,495.93 L195.30,494.77 L196.45,494.77 L196.45,492.98 L197.59,492.98 L197.59,495.90 L198.74,495.90 L198.74,495.81 L199.89,495.81 L199.89,497.31 L201.03,497.31 L201.03,490.76 L202.18,490.76 L202.18,488.84 L203.32,488.84 L203.32,486.19 L204.47,486.19 L204.47,491.57 L205.61,491.57 L205.61,491.97 L206.76,491.97 L206.76,496.24 L207.91,496.24 L207.91,496.14 L209.05,496.14 L209.05,503.05 L210.20,503.05 L210.20,509.18 L211.34,509.18 L211.34,511.38 L212.49,511.38 L212.49,509.64 L213.64,509.64 L213.64,513.22 L214.78,513.22 L214.78,515.94 L215.93,515.94 L215.93,515.20 L217.07,515.20 L217.07,517.85 L218.22,517.85 L218.22,519.43 L219.36,519.43 L219.36,521.45 L220.51,521.45 L220.51,526.86 L221.66,526.86 L221.66,528.00 L222.80,528.00 L222.80,529.52 L223.95,529.52 L223.95,534.16 L225.09,534.16 L225.09,528.10 L226.24,528.10 L226.24,532.69 L227.39,532.69 L227.39,532.12 L228.53,532.12 L228.53,530.40 L229.68,530.40 L229.68,531.65 L230.82,531.65 L230.82,528.61 L231.97,528.61 L231.97,530.04 L233.11,530.04 L233.11,524.10 L234.26,524.10 L234.26,526.70 L235.41,526.70 L235.41,531.82 L236.55,531.82 L236.55,531.42 L237.70,531.42 L237.70,535.51 L238.84,535.51 L238.84,539.06 L239.99,539.06 L239.99,541.05 L241.14,541.05 L241.14,541.49 L242.28,541.49 L242.28,543.69 L243.43,543.69 L243.43,549.40 L244.57,549.40 L244.57,549.37 L245.72,549.37 L245.72,550.96 L246.86,550.96 L246.86,548.97 L248.01,548.97 L248.01,547.01 L249.16,547.01 L249.16,544.65 L250.30,544.65 L250.30,547.84 L251.45,547.84 L251.45,543.73 L252.59,543.73 L252.59,548.39 L253.74,548.39 L253.74,549.26 L254.89,549.26 L254.89,542.49 L256.03,542.49 L256.03,550.29 L257.18,550.29 L257.18,554.14 L258.32,554.14 L258.32,553.63 L259.47,553.63 L259.47,550.60 L260.61,550.60 L260.61,552.82 L261.76,552.82 L261.76,547.00 L262.91,547.00 L262.91,553.78 L264.05,553.78 L264.05,544.26 L265.20,544.26 L265.20,551.67 L266.34,551.67 L266.34,554.73 L267.49,554.73 L267.49,556.47 L268.64,556.47 L268.64,559.33 L269.78,559.33 L269.78,558.99 L270.93,558.99 L270.93,567.86 L272.07,567.86 L272.07,571.71 L273.22,571.71 L273.22,572.35 L274.36,572.35 L274.36,568.17 L275.51,568.17 L275.51,569.52 L276.66,569.52 L276.66,569.62 L277.80,569.62 L277.80,573.39 L278.95,573.39 L278.95,578.04 L280.09,578.04 L280.09,574.29 L281.24,574.29 L281.24,573.33 L282.39,573.33 L282.39,560.63 L283.53,560.63 L283.53,563.15 L284.68,563.15 L284.68,568.96 L285.82,568.96 L285.82,577.15 L286.97,577.15 L286.97,575.61 L288.11,575.61 L288.11,575.84 L289.26,575.84 L289.26,581.86 L290.41,581.86 L290.41,578.52 L291.55,578.52 L291.55,580.36 L292.70,580.36 L292.70,565.75 L293.84,565.75 L293.84,585.82 L294.99,585.82 L294.99,582.98 L296.14,582.98 L296.14,584.49 L297.28,584.49 L297.28,583.73 L298.43,583.73 L298.43,586.56 L299.57,586.56 L299.57,580.64 L300.72,580.64 L300.72,580.86 L301.86,580.86 L301.86,586.08 L303.01,586.08 L303.01,582.83 L304.16,582.83 L304.16,593.57 L305.30,593.57 L305.30,592.49 L306.45,592.49 L306.45,584.10 L307.59,584.10 L307.59,587.35 L308.74,587.35 L308.74,583.58 L309.89,583.58 L309.89,574.39 L311.03,574.39 L311.03,581.18 L312.18,581.18 L312.18,580.02 L313.32,580.02 L313.32,581.34 L314.47,581.34 L314.47,581.62 L315.61,581.62 L315.61,582.27 L316.76,582.27 L316.76,575.57 L317.91,575.57 L317.91,574.49 L319.05,574.49 L319.05,581.19 L320.20,581.19 L320.20,577.11 L321.34,577.11 L321.34,579.79 L322.49,579.79 L322.49,589.77 L323.64,589.77 L323.64,590.69 L324.78,590.69 L324.78,586.49 L325.93,586.49 L325.93,658.84 L324.78,658.84 L324.78,657.12 L323.64,657.12 L323.64,657.71 L322.49,657.71 L322.49,664.78 L321.34,664.78 L321.34,666.51 L320.20,666.51 L320.20,663.21 L319.05,663.21 L319.05,662.16 L317.91,662.16 L317.91,662.71 L316.76,662.71 L316.76,661.10 L315.61,661.10 L315.61,661.98 L314.47,661.98 L314.47,657.12 L313.32,657.12 L313.32,657.40 L312.18,657.40 L312.18,655.99 L311.03,655.99 L311.03,655.62 L309.89,655.62 L309.89,657.60 L308.74,657.60 L308.74,666.38 L307.59,666.38 L307.59,655.49 L306.45,655.49 L306.45,658.56 L305.30,658.56 L305.30,651.18 L304.16,651.18 L304.16,652.17 L303.01,652.17 L303.01,664.97 L301.86,664.97 L301.86,652.00 L300.72,652.00 L300.72,647.98 L299.57,647.98 L299.57,648.61 L298.43,648.61 L298.43,647.19 L297.28,647.19 L297.28,648.62 L296.14,648.62 L296.14,648.74 L294.99,648.74 L294.99,648.90 L293.84,648.90 L293.84,646.90 L292.70,646.90 L292.70,647.06 L291.55,647.06 L291.55,647.53 L290.41,647.53 L290.41,643.88 L289.26,643.88 L289.26,643.08 L288.11,643.08 L288.11,642.83 L286.97,642.83 L286.97,640.61 L285.82,640.61 L285.82,640.62 L284.68,640.62 L284.68,639.44 L283.53,639.44 L283.53,633.87 L282.39,633.87 L282.39,635.72 L281.24,635.72 L281.24,638.50 L280.09,638.50 L280.09,635.12 L278.95,635.12 L278.95,633.31 L277.80,633.31 L277.80,630.50 L276.66,630.50 L276.66,627.45 L275.51,627.45 L275.51,632.55 L274.36,632.55 L274.36,628.91 L273.22,628.91 L273.22,624.80 L272.07,624.80 L272.07,620.62 L270.93,620.62 L270.93,622.69 L269.78,622.69 L269.78,619.96 L268.64,619.96 L268.64,623.39 L267.49,623.39 L267.49,623.07 L266.34,623.07 L266.34,621.63 L265.20,621.63 L265.20,615.27 L264.05,615.27 L264.05,615.97 L262.91,615.97 L262.91,616.97 L261.76,616.97 L261.76,613.51 L260.61,613.51 L260.61,611.32 L259.47,611.32 L259.47,612.09 L258.32,612.09 L258.32,615.35 L257.18,615.35 L257.18,609.05 L256.03,609.05 L256.03,611.23 L254.89,611.23 L254.89,607.70 L253.74,607.70 L253.74,609.81 L252.59,609.81 L252.59,607.84 L251.45,607.84 L251.45,599.36 L250.30,599.36 L250.30,599.83 L249.16,599.83 L249.16,595.95 L248.01,595.95 L248.01,607.83 L246.86,607.83 L246.86,596.73 L245.72,596.73 L245.72,591.40 L244.57,591.40 L244.57,594.77 L243.43,594.77 L243.43,594.02 L242.28,594.02 L242.28,592.66 L241.14,592.66 L241.14,599.75 L239.99,599.75 L239.99,588.49 L238.84,588.49 L238.84,588.07 L237.70,588.07 L237.70,590.30 L236.55,590.30 L236.55,589.46 L235.41,589.46 L235.41,587.36 L234.26,587.36 L234.26,584.21 L233.11,584.21 L233.11,580.06 L231.97,580.06 L231.97,579.16 L230.82,579.16 L230.82,584.84 L229.68,584.84 L229.68,576.14 L228.53,576.14 L228.53,576.28 L227.39,576.28 L227.39,578.33 L226.24,578.33 L226.24,568.14 L225.09,568.14 L225.09,569.79 L223.95,569.79 L223.95,573.35 L222.80,573.35 L222.80,570.59 L221.66,570.59 L221.66,568.49 L220.51,568.49 L220.51,563.79 L219.36,563.79 L219.36,571.58 L218.22,571.58 L218.22,565.83 L217.07,565.83 L217.07,563.83 L215.93,563.83 L215.93,556.10 L214.78,556.10 L214.78,558.33 L213.64,558.33 L213.64,555.99 L212.49,555.99 L212.49,559.15 L211.34,559.15 L211.34,556.23 L210.20,556.23 L210.20,555.08 L209.05,555.08 L209.05,550.00 L207.91,550.00 L207.91,546.80 L206.76,546.80 L206.76,562.46 L205.61,562.46 L205.61,557.91 L204.47,557.91 L204.47,548.23 L203.32,548.23 L203.32,543.41 L202.18,543.41 L202.18,546.93 L201.03,546.93 L201.03,543.08 L199.89,543.08 L199.89,540.96 L198.74,540.96 L198.74,541.76 L197.59,541.76 L197.59,546.73 L196.45,546.73 L196.45,538.09 L195.30,538.09 L195.30,535.34 L194.16,535.34 L194.16,532.85 L193.01,532.85 L193.01,529.68 L191.86,529.68 L191.86,530.81 L190.72,530.81 L190.72,529.92 L189.57,529.92 L189.57,529.31 L188.43,529.31 L188.43,526.04 L187.28,526.04 L187.28,529.65 L186.14,529.65 L186.14,529.30 L184.99,529.30 L184.99,533.19 L183.84,533.19 L183.84,543.22 L182.70,543.22 L182.70,533.02 L181.55,533.02 L181.55,531.54 L180.41,531.54 L180.41,528.92 L179.26,528.92 L179.26,527.62 L178.11,527.62 L178.11,527.87 L176.97,527.87 L176.97,525.88 L175.82,525.88 L175.82,524.27 L174.68,524.27 L174.68,522.62 L173.53,522.62 L173.53,524.72 L172.39,524.72 L172.39,528.99 L171.24,528.99 L171.24,527.23 L170.09,527.23 L170.09,525.75 L168.95,525.75 L168.95,527.80 L167.80,527.80 L167.80,527.57 L166.66,527.57 L166.66,527.47 L165.51,527.47 L165.51,528.58 L164.36,528.58 L164.36,527.46 L163.22,527.46 L163.22,530.19 L162.07,530.19 L162.07,528.00 L160.93,528.00 L160.93,529.61 L159.78,529.61 L159.78,530.89 L158.64,530.89 L158.64,530.46 L157.49,530.46 L157.49,535.73 L156.34,535.73 L156.34,530.28 L155.20,530.28 L155.20,529.33 L154.05,529.33 L154.05,528.85 L152.91,528.85 L152.91,530.90 L151.76,530.90 L151.76,530.56 L150.61,530.56 L150.61,530.39 L149.47,530.39 L149.47,528.63 L148.32,528.63 L148.32,530.75 L147.18,530.75 L147.18,531.86 L146.03,531.86 L146.03,527.78 L144.89,527.78 L144.89,533.45 L143.74,533.45 L143.74,526.26 L142.59,526.26 L142.59,527.02 L141.45,527.02 L141.45,527.08 L140.30,527.08 L140.30,527.48 L139.16,527.48 L139.16,530.01 L138.01,530.01 L138.01,528.25 L136.86,528.25 L136.86,527.41 L135.72,527.41 L135.72,534.58 L134.57,534.58 L134.57,532.96 L133.43,532.96 L133.43,527.55 L132.28,527.55 L132.28,529.62 L131.14,529.62 L131.14,528.23 L129.99,528.23 L129.99,526.44 L128.84,526.44 L128.84,527.08 L127.70,527.08 L127.70,523.94 L126.55,523.94 L126.55,524.72 L125.41,524.72 L125.41,522.30 L124.26,522.30 L124.26,522.64 L123.11,522.64 L123.11,525.34 L121.97,525.34 L121.97,522.62 L120.82,522.62 L120.82,517.67 L119.68,517.67 L119.68,517.80 L118.53,517.80 L118.53,520.10 L117.39,520.10 L117.39,521.25 L116.24,521.25 L116.24,517.85 L115.09,517.85 L115.09,523.03 L113.95,523.03 L113.95,517.35 L112.80,517.35 L112.80,514.74 L111.66,514.74 L111.66,514.01 L110.51,514.01 L110.51,515.14 L109.36,515.14 L109.36,514.05 L108.22,514.05 L108.22,512.30 L107.07,512.30 L107.07,514.24 L105.93,514.24 L105.93,514.51 L104.78,514.51 L104.78,511.71 L103.64,511.71 L103.64,510.76 L102.49,510.76 L102.49,511.63 L101.34,511.63 L101.34,510.45 L100.20,510.45 L100.20,511.15 L99.05,511.15 L99.05,511.01 L97.91,511.01 L97.91,513.02 L96.76,513.02 L96.76,521.64 L95.61,521.64 L95.61,509.83 L94.47,509.83 L94.47,511.45 L93.32,511.45 L93.32,512.12 L92.18,512.12 L92.18,515.44 L91.03,515.44 L91.03,514.27 L89.89,514.27 L89.89,513.74 L88.74,513.74 L88.74,515.72 L87.59,515.72 L87.59,520.21 L86.45,520.21 L86.45,520.25 L85.30,520.25 L85.30,516.00 L84.16,516.00 L84.16,517.59 L83.01,517.59 L83.01,513.97 L81.86,513.97 L81.86,515.34 L80.72,515.34 L80.72,515.17 L79.57,515.17 L79.57,510.16 L78.43,510.16 L78.43,513.48 L77.28,513.48 L77.28,516.59 L76.14,516.59 L76.14,517.94 L74.99,517.94 L74.99,519.42 L73.84,519.42 L73.84,519.98 L72.70,519.98 L72.70,517.07 L71.55,517.07 L71.55,517.95 L70.41,517.95 L70.41,517.88 L69.26,517.88 L69.26,517.44 L68.11,517.44 L68.11,518.64 L66.97,518.64 L66.97,513.71 L65.82,513.71 L65.82,519.02 L64.68,519.02 L64.68,518.79 L63.53,518.79 L63.53,516.15 L62.39,516.15 L62.39,515.85 L61.24,515.85 L61.24,514.90 L60.09,514.90 L60.09,514.88 L58.95,514.88 L58.95,513.76 L57.80,513.76 L57.80,513.62 L56.66,513.62 L56.66,513.39 L55.51,513.39 L55.51,512.93 L54.36,512.93 L54.36,516.90 L53.22,516.90 L53.22,517.32 L52.07,517.32 L52.07,514.79 L50.93,514.79 Z" fill="#a8a8a8" stroke="none"/>
<line x1="51.50" y1="507.50" x2="326.50" y2="507.50" stroke="#000" stroke-width="1" stroke-dasharray="8.6 5.55" stroke-dashoffset="8.55"/>
<path d="M51.50,500.84 L52.65,502.66 L53.79,500.31 L54.94,502.59 L56.08,511.70 L57.23,506.45 L58.38,506.80 L59.52,510.56 L60.67,512.75 L61.81,501.05 L62.96,512.09 L64.10,503.78 L65.25,510.98 L66.40,506.45 L67.54,506.36 L68.69,510.31 L69.83,512.25 L70.98,509.96 L72.12,506.47 L73.27,510.77 L74.42,509.52 L75.56,505.97 L76.71,499.60 L77.85,495.66 L79.00,490.17 L80.15,479.97 L81.29,479.21 L82.44,482.69 L83.58,489.48 L84.73,488.12 L85.88,506.49 L87.02,504.32 L88.17,505.53 L89.31,504.19 L90.46,500.60 L91.60,504.45 L92.75,501.69 L93.90,508.55 L95.04,495.98 L96.19,505.69 L97.33,495.63 L98.48,498.74 L99.62,495.68 L100.77,492.75 L101.92,491.93 L103.06,497.33 L104.21,498.74 L105.35,506.13 L106.50,498.53 L107.65,505.55 L108.79,505.57 L109.94,507.25 L111.08,511.93 L112.23,506.17 L113.38,509.65 L114.52,513.92 L115.67,503.34 L116.81,511.85 L117.96,512.13 L119.10,511.05 L120.25,506.63 L121.40,506.82 L122.54,508.08 L123.69,509.33 L124.83,510.86 L125.98,507.87 L127.12,513.62 L128.27,510.86 L129.42,510.00 L130.56,517.26 L131.71,514.67 L132.85,514.40 L134.00,512.82 L135.15,516.17 L136.29,508.69 L137.44,508.53 L138.58,513.23 L139.73,509.54 L140.88,520.15 L142.02,510.17 L143.17,519.45 L144.31,519.04 L145.46,522.44 L146.60,526.90 L147.75,517.23 L148.90,527.69 L150.04,519.47 L151.19,517.02 L152.33,522.01 L153.48,524.94 L154.62,509.12 L155.77,516.65 L156.92,518.41 L158.06,514.00 L159.21,514.03 L160.35,509.83 L161.50,507.67 L162.65,514.08 L163.79,502.61 L164.94,514.38 L166.08,513.83 L167.23,516.93 L168.38,509.31 L169.52,512.78 L170.67,506.70 L171.81,501.16 L172.96,505.46 L174.10,496.42 L175.25,506.34 L176.40,501.85 L177.54,505.45 L178.69,498.15 L179.83,507.66 L180.98,502.53 L182.12,506.78 L183.27,502.05 L184.42,505.55 L185.56,508.53 L186.71,509.96 L187.85,514.19 L189.00,510.45 L190.15,505.85 L191.29,507.03 L192.44,511.58 L193.58,510.97 L194.73,510.07 L195.88,522.77 L197.02,518.83 L198.17,517.87 L199.31,528.69 L200.46,519.75 L201.60,521.67 L202.75,516.45 L203.90,523.67 L205.04,524.94 L206.19,524.24 L207.33,527.96 L208.48,523.22 L209.62,524.29 L210.77,530.82 L211.92,528.13 L213.06,532.91 L214.21,531.60 L215.35,539.57 L216.50,533.79 L217.65,537.28 L218.79,531.81 L219.94,543.79 L221.08,532.69 L222.23,538.41 L223.38,539.33 L224.52,544.00 L225.67,545.46 L226.81,547.12 L227.96,544.22 L229.10,550.97 L230.25,554.63 L231.40,558.56 L232.54,549.21 L233.69,560.30 L234.83,548.45 L235.98,545.48 L237.12,554.07 L238.27,553.09 L239.42,558.78 L240.56,555.92 L241.71,560.48 L242.85,563.02 L244.00,563.25 L245.15,567.63 L246.29,570.51 L247.44,567.68 L248.58,569.06 L249.73,573.96 L250.88,575.00 L252.02,574.34 L253.17,577.20 L254.31,573.46 L255.46,580.96 L256.60,584.85 L257.75,592.98 L258.90,585.54 L260.04,588.60 L261.19,584.13 L262.33,578.64 L263.48,589.17 L264.62,577.62 L265.77,581.29 L266.92,582.52 L268.06,590.11 L269.21,593.77 L270.35,590.34 L271.50,602.30 L272.65,599.96 L273.79,599.99 L274.94,603.09 L276.08,601.12 L277.23,594.76 L278.38,606.89 L279.52,604.99 L280.67,607.78 L281.81,613.83 L282.96,610.46 L284.10,609.55 L285.25,614.56 L286.40,607.74 L287.54,609.82 L288.69,613.56 L289.83,610.09 L290.98,611.75 L292.12,612.08 L293.27,613.43 L294.42,601.77 L295.56,612.95 L296.71,609.07 L297.85,605.71 L299.00,608.87 L300.15,604.40 L301.29,620.02 L302.44,620.21 L303.58,612.11 L304.73,627.07 L305.88,623.19 L307.02,629.84 L308.17,624.02 L309.31,633.21 L310.46,618.60 L311.60,624.34 L312.75,619.75 L313.90,619.37 L315.04,630.35 L316.19,622.62 L317.33,627.94 L318.48,621.07 L319.62,617.92 L320.77,627.01 L321.92,615.49 L323.06,620.60 L324.21,616.70 L325.35,620.25" fill="none" stroke="#000" stroke-width="3.8" stroke-linejoin="round"/>
<path d="M190.10,503.50 L192.20,518.70 L193.90,510.30 L195.60,501.40 L196.90,514.50 L198.60,512.00 L200.30,520.40 L202.00,504.80 L203.20,513.60 L205.30,528.00 L207.00,523.80 L208.70,541.50 L211.20,530.50 L213.80,511.10 L214.60,529.70 L217.20,544.00 L218.90,537.30 L221.40,531.40" fill="none" stroke="#00f000" stroke-width="2" stroke-linejoin="round"/>
</g>
<g clip-path="url(#clipf)">
<path d="M359.93,527.01 L361.07,527.01 L361.07,518.62 L362.21,518.62 L362.21,517.94 L363.35,517.94 L363.35,515.21 L364.50,515.21 L364.50,510.99 L365.64,510.99 L365.64,503.34 L366.78,503.34 L366.78,500.38 L367.92,500.38 L367.92,513.45 L369.06,513.45 L369.06,515.98 L370.20,515.98 L370.20,516.72 L371.35,516.72 L371.35,520.40 L372.49,520.40 L372.49,523.47 L373.63,523.47 L373.63,524.20 L374.77,524.20 L374.77,523.11 L375.91,523.11 L375.91,523.01 L377.05,523.01 L377.05,522.11 L378.20,522.11 L378.20,512.12 L379.34,512.12 L379.34,506.92 L380.48,506.92 L380.48,489.76 L381.62,489.76 L381.62,507.68 L382.76,507.68 L382.76,504.83 L383.90,504.83 L383.90,499.57 L385.05,499.57 L385.05,498.94 L386.19,498.94 L386.19,499.50 L387.33,499.50 L387.33,494.96 L388.47,494.96 L388.47,485.30 L389.61,485.30 L389.61,481.47 L390.75,481.47 L390.75,485.91 L391.90,485.91 L391.90,485.60 L393.04,485.60 L393.04,499.29 L394.18,499.29 L394.18,500.76 L395.32,500.76 L395.32,503.75 L396.46,503.75 L396.46,501.82 L397.60,501.82 L397.60,513.54 L398.75,513.54 L398.75,511.24 L399.89,511.24 L399.89,505.04 L401.03,505.04 L401.03,507.50 L402.17,507.50 L402.17,504.10 L403.31,504.10 L403.31,509.65 L404.45,509.65 L404.45,508.98 L405.60,508.98 L405.60,504.99 L406.74,504.99 L406.74,505.44 L407.88,505.44 L407.88,485.77 L409.02,485.77 L409.02,502.04 L410.16,502.04 L410.16,502.41 L411.30,502.41 L411.30,507.14 L412.45,507.14 L412.45,512.27 L413.59,512.27 L413.59,516.31 L414.73,516.31 L414.73,526.26 L415.87,526.26 L415.87,529.73 L417.01,529.73 L417.01,523.61 L418.15,523.61 L418.15,518.02 L419.30,518.02 L419.30,511.75 L420.44,511.75 L420.44,517.82 L421.58,517.82 L421.58,511.42 L422.72,511.42 L422.72,516.74 L423.86,516.74 L423.86,510.33 L425.00,510.33 L425.00,522.14 L426.15,522.14 L426.15,517.47 L427.29,517.47 L427.29,526.04 L428.43,526.04 L428.43,523.07 L429.57,523.07 L429.57,511.11 L430.71,511.11 L430.71,520.95 L431.85,520.95 L431.85,507.79 L433.00,507.79 L433.00,518.80 L434.14,518.80 L434.14,513.38 L435.28,513.38 L435.28,509.04 L436.42,509.04 L436.42,508.67 L437.56,508.67 L437.56,512.86 L438.70,512.86 L438.70,515.37 L439.85,515.37 L439.85,507.95 L440.99,507.95 L440.99,519.65 L442.13,519.65 L442.13,521.00 L443.27,521.00 L443.27,516.93 L444.41,516.93 L444.41,522.73 L445.55,522.73 L445.55,525.78 L446.70,525.78 L446.70,518.05 L447.84,518.05 L447.84,516.46 L448.98,516.46 L448.98,507.65 L450.12,507.65 L450.12,527.80 L451.26,527.80 L451.26,528.20 L452.40,528.20 L452.40,528.07 L453.55,528.07 L453.55,527.14 L454.69,527.14 L454.69,525.00 L455.83,525.00 L455.83,524.86 L456.97,524.86 L456.97,519.11 L458.11,519.11 L458.11,519.36 L459.25,519.36 L459.25,513.70 L460.40,513.70 L460.40,519.92 L461.54,519.92 L461.54,518.21 L462.68,518.21 L462.68,513.58 L463.82,513.58 L463.82,508.89 L464.96,508.89 L464.96,507.60 L466.10,507.60 L466.10,511.93 L467.25,511.93 L467.25,502.17 L468.39,502.17 L468.39,475.32 L469.53,475.32 L469.53,508.16 L470.67,508.16 L470.67,488.59 L471.81,488.59 L471.81,509.35 L472.95,509.35 L472.95,503.42 L474.10,503.42 L474.10,508.67 L475.24,508.67 L475.24,509.73 L476.38,509.73 L476.38,510.11 L477.52,510.11 L477.52,500.46 L478.66,500.46 L478.66,509.25 L479.80,509.25 L479.80,500.60 L480.95,500.60 L480.95,509.20 L482.09,509.20 L482.09,493.74 L483.23,493.74 L483.23,498.18 L484.37,498.18 L484.37,489.40 L485.51,489.40 L485.51,500.42 L486.65,500.42 L486.65,492.11 L487.80,492.11 L487.80,500.31 L488.94,500.31 L488.94,498.40 L490.08,498.40 L490.08,496.57 L491.22,496.57 L491.22,499.92 L492.36,499.92 L492.36,499.75 L493.50,499.75 L493.50,496.85 L494.65,496.85 L494.65,494.82 L495.79,494.82 L495.79,481.70 L496.93,481.70 L496.93,489.80 L498.07,489.80 L498.07,499.89 L499.21,499.89 L499.21,495.00 L500.35,495.00 L500.35,497.57 L501.50,497.57 L501.50,485.92 L502.64,485.92 L502.64,496.37 L503.78,496.37 L503.78,502.18 L504.92,502.18 L504.92,498.44 L506.06,498.44 L506.06,505.79 L507.20,505.79 L507.20,502.76 L508.35,502.76 L508.35,499.17 L509.49,499.17 L509.49,503.50 L510.63,503.50 L510.63,500.97 L511.77,500.97 L511.77,500.48 L512.91,500.48 L512.91,508.04 L514.05,508.04 L514.05,513.65 L515.20,513.65 L515.20,506.75 L516.34,506.75 L516.34,505.62 L517.48,505.62 L517.48,515.38 L518.62,515.38 L518.62,507.53 L519.76,507.53 L519.76,511.88 L520.90,511.88 L520.90,517.60 L522.05,517.60 L522.05,511.75 L523.19,511.75 L523.19,509.15 L524.33,509.15 L524.33,513.30 L525.47,513.30 L525.47,509.06 L526.61,509.06 L526.61,507.20 L527.75,507.20 L527.75,495.13 L528.90,495.13 L528.90,503.09 L530.04,503.09 L530.04,502.10 L531.18,502.10 L531.18,512.59 L532.32,512.59 L532.32,509.16 L533.46,509.16 L533.46,502.21 L534.60,502.21 L534.60,506.55 L535.75,506.55 L535.75,483.05 L536.89,483.05 L536.89,500.31 L538.03,500.31 L538.03,509.55 L539.17,509.55 L539.17,496.52 L540.31,496.52 L540.31,503.65 L541.45,503.65 L541.45,509.79 L542.60,509.79 L542.60,490.90 L543.74,490.90 L543.74,490.47 L544.88,490.47 L544.88,512.60 L546.02,512.60 L546.02,508.64 L547.16,508.64 L547.16,473.77 L548.30,473.77 L548.30,507.63 L549.45,507.63 L549.45,518.48 L550.59,518.48 L550.59,509.57 L551.73,509.57 L551.73,507.07 L552.87,507.07 L552.87,511.49 L554.01,511.49 L554.01,513.13 L555.15,513.13 L555.15,511.59 L556.30,511.59 L556.30,518.91 L557.44,518.91 L557.44,517.72 L558.58,517.72 L558.58,515.25 L559.72,515.25 L559.72,519.88 L560.86,519.88 L560.86,517.58 L562.00,517.58 L562.00,521.94 L563.15,521.94 L563.15,503.32 L564.29,503.32 L564.29,520.85 L565.43,520.85 L565.43,517.26 L566.57,517.26 L566.57,511.84 L567.71,511.84 L567.71,487.15 L568.85,487.15 L568.85,512.75 L570.00,512.75 L570.00,513.12 L571.14,513.12 L571.14,486.24 L572.28,486.24 L572.28,508.93 L573.42,508.93 L573.42,515.00 L574.56,515.00 L574.56,509.73 L575.70,509.73 L575.70,515.87 L576.85,515.87 L576.85,526.38 L577.99,526.38 L577.99,515.74 L579.13,515.74 L579.13,524.26 L580.27,524.26 L580.27,527.69 L581.41,527.69 L581.41,520.87 L582.55,520.87 L582.55,513.37 L583.70,513.37 L583.70,500.44 L584.84,500.44 L584.84,514.67 L585.98,514.67 L585.98,503.51 L587.12,503.51 L587.12,507.34 L588.26,507.34 L588.26,512.95 L589.40,512.95 L589.40,513.99 L590.55,513.99 L590.55,504.68 L591.69,504.68 L591.69,509.44 L592.83,509.44 L592.83,509.86 L593.97,509.86 L593.97,510.58 L595.11,510.58 L595.11,503.07 L596.25,503.07 L596.25,510.58 L597.40,510.58 L597.40,509.91 L598.54,509.91 L598.54,515.29 L599.68,515.29 L599.68,503.44 L600.82,503.44 L600.82,505.40 L601.96,505.40 L601.96,522.22 L603.10,522.22 L603.10,509.38 L604.25,509.38 L604.25,517.58 L605.39,517.58 L605.39,511.00 L606.53,511.00 L606.53,521.88 L607.67,521.88 L607.67,523.48 L608.81,523.48 L608.81,515.05 L609.95,515.05 L609.95,512.85 L611.10,512.85 L611.10,517.72 L612.24,517.72 L612.24,492.54 L613.38,492.54 L613.38,519.62 L614.52,519.62 L614.52,501.58 L615.66,501.58 L615.66,510.57 L616.80,510.57 L616.80,504.88 L617.95,504.88 L617.95,510.68 L619.09,510.68 L619.09,512.64 L620.23,512.64 L620.23,518.85 L621.37,518.85 L621.37,513.13 L622.51,513.13 L622.51,522.26 L623.65,522.26 L623.65,525.11 L624.80,525.11 L624.80,529.49 L625.94,529.49 L625.94,525.70 L627.08,525.70 L627.08,520.49 L628.22,520.49 L628.22,522.44 L629.36,522.44 L629.36,520.27 L630.50,520.27 L630.50,502.64 L631.65,502.64 L631.65,523.71 L632.79,523.71 L632.79,524.77 L633.93,524.77 L633.93,655.65 L632.79,655.65 L632.79,661.40 L631.65,661.40 L631.65,671.77 L630.50,671.77 L630.50,661.38 L629.36,661.38 L629.36,655.14 L628.22,655.14 L628.22,673.03 L627.08,673.03 L627.08,652.27 L625.94,652.27 L625.94,660.36 L624.80,660.36 L624.80,659.37 L623.65,659.37 L623.65,651.21 L622.51,651.21 L622.51,652.68 L621.37,652.68 L621.37,660.43 L620.23,660.43 L620.23,659.44 L619.09,659.44 L619.09,643.84 L617.95,643.84 L617.95,640.15 L616.80,640.15 L616.80,640.89 L615.66,640.89 L615.66,644.37 L614.52,644.37 L614.52,664.79 L613.38,664.79 L613.38,638.76 L612.24,638.76 L612.24,635.74 L611.10,635.74 L611.10,632.35 L609.95,632.35 L609.95,632.21 L608.81,632.21 L608.81,629.96 L607.67,629.96 L607.67,627.55 L606.53,627.55 L606.53,626.74 L605.39,626.74 L605.39,625.93 L604.25,625.93 L604.25,628.66 L603.10,628.66 L603.10,624.50 L601.96,624.50 L601.96,635.39 L600.82,635.39 L600.82,628.89 L599.68,628.89 L599.68,627.20 L598.54,627.20 L598.54,631.51 L597.40,631.51 L597.40,623.18 L596.25,623.18 L596.25,628.12 L595.11,628.12 L595.11,629.93 L593.97,629.93 L593.97,625.04 L592.83,625.04 L592.83,622.25 L591.69,622.25 L591.69,620.98 L590.55,620.98 L590.55,626.65 L589.40,626.65 L589.40,615.33 L588.26,615.33 L588.26,623.77 L587.12,623.77 L587.12,655.82 L585.98,655.82 L585.98,629.35 L584.84,629.35 L584.84,668.46 L583.70,668.46 L583.70,644.42 L582.55,644.42 L582.55,622.12 L581.41,622.12 L581.41,629.88 L580.27,629.88 L580.27,620.96 L579.13,620.96 L579.13,609.31 L577.99,609.31 L577.99,615.85 L576.85,615.85 L576.85,617.82 L575.70,617.82 L575.70,616.31 L574.56,616.31 L574.56,639.15 L573.42,639.15 L573.42,609.36 L572.28,609.36 L572.28,612.22 L571.14,612.22 L571.14,609.95 L570.00,609.95 L570.00,613.12 L568.85,613.12 L568.85,612.67 L567.71,612.67 L567.71,612.26 L566.57,612.26 L566.57,616.72 L565.43,616.72 L565.43,628.42 L564.29,628.42 L564.29,626.48 L563.15,626.48 L563.15,622.71 L562.00,622.71 L562.00,616.53 L560.86,616.53 L560.86,607.03 L559.72,607.03 L559.72,601.49 L558.58,601.49 L558.58,602.44 L557.44,602.44 L557.44,607.30 L556.30,607.30 L556.30,619.88 L555.15,619.88 L555.15,601.28 L554.01,601.28 L554.01,605.05 L552.87,605.05 L552.87,603.55 L551.73,603.55 L551.73,630.09 L550.59,630.09 L550.59,604.48 L549.45,604.48 L549.45,607.66 L548.30,607.66 L548.30,633.33 L547.16,633.33 L547.16,602.24 L546.02,602.24 L546.02,603.53 L544.88,603.53 L544.88,599.86 L543.74,599.86 L543.74,582.13 L542.60,582.13 L542.60,590.96 L541.45,590.96 L541.45,606.38 L540.31,606.38 L540.31,580.73 L539.17,580.73 L539.17,585.16 L538.03,585.16 L538.03,579.58 L536.89,579.58 L536.89,581.51 L535.75,581.51 L535.75,583.76 L534.60,583.76 L534.60,585.49 L533.46,585.49 L533.46,585.76 L532.32,585.76 L532.32,595.98 L531.18,595.98 L531.18,589.91 L530.04,589.91 L530.04,593.25 L528.90,593.25 L528.90,588.56 L527.75,588.56 L527.75,578.66 L526.61,578.66 L526.61,576.11 L525.47,576.11 L525.47,582.11 L524.33,582.11 L524.33,586.93 L523.19,586.93 L523.19,571.78 L522.05,571.78 L522.05,575.82 L520.90,575.82 L520.90,581.56 L519.76,581.56 L519.76,576.70 L518.62,576.70 L518.62,571.45 L517.48,571.45 L517.48,567.37 L516.34,567.37 L516.34,569.41 L515.20,569.41 L515.20,574.95 L514.05,574.95 L514.05,577.88 L512.91,577.88 L512.91,573.87 L511.77,573.87 L511.77,580.67 L510.63,580.67 L510.63,570.63 L509.49,570.63 L509.49,570.85 L508.35,570.85 L508.35,574.09 L507.20,574.09 L507.20,571.45 L506.06,571.45 L506.06,582.80 L504.92,582.80 L504.92,561.61 L503.78,561.61 L503.78,583.08 L502.64,583.08 L502.64,562.31 L501.50,562.31 L501.50,559.80 L500.35,559.80 L500.35,560.18 L499.21,560.18 L499.21,557.31 L498.07,557.31 L498.07,563.25 L496.93,563.25 L496.93,585.66 L495.79,585.66 L495.79,562.51 L494.65,562.51 L494.65,552.37 L493.50,552.37 L493.50,561.10 L492.36,561.10 L492.36,558.99 L491.22,558.99 L491.22,557.90 L490.08,557.90 L490.08,556.97 L488.94,556.97 L488.94,554.76 L487.80,554.76 L487.80,566.05 L486.65,566.05 L486.65,558.00 L485.51,558.00 L485.51,554.35 L484.37,554.35 L484.37,560.84 L483.23,560.84 L483.23,560.20 L482.09,560.20 L482.09,565.30 L480.95,565.30 L480.95,561.02 L479.80,561.02 L479.80,570.04 L478.66,570.04 L478.66,556.74 L477.52,556.74 L477.52,562.06 L476.38,562.06 L476.38,561.71 L475.24,561.71 L475.24,563.79 L474.10,563.79 L474.10,560.39 L472.95,560.39 L472.95,563.39 L471.81,563.39 L471.81,566.38 L470.67,566.38 L470.67,556.16 L469.53,556.16 L469.53,555.60 L468.39,555.60 L468.39,559.61 L467.25,559.61 L467.25,559.42 L466.10,559.42 L466.10,567.42 L464.96,567.42 L464.96,564.90 L463.82,564.90 L463.82,563.97 L462.68,563.97 L462.68,565.28 L461.54,565.28 L461.54,567.81 L460.40,567.81 L460.40,562.38 L459.25,562.38 L459.25,566.93 L458.11,566.93 L458.11,568.97 L456.97,568.97 L456.97,568.69 L455.83,568.69 L455.83,573.96 L454.69,573.96 L454.69,585.28 L453.55,585.28 L453.55,579.09 L452.40,579.09 L452.40,577.30 L451.26,577.30 L451.26,576.68 L450.12,576.68 L450.12,580.12 L448.98,580.12 L448.98,582.46 L447.84,582.46 L447.84,570.91 L446.70,570.91 L446.70,561.28 L445.55,561.28 L445.55,562.33 L444.41,562.33 L444.41,573.17 L443.27,573.17 L443.27,562.68 L442.13,562.68 L442.13,571.91 L440.99,571.91 L440.99,573.43 L439.85,573.43 L439.85,580.25 L438.70,580.25 L438.70,565.58 L437.56,565.58 L437.56,575.19 L436.42,575.19 L436.42,570.41 L435.28,570.41 L435.28,572.69 L434.14,572.69 L434.14,585.03 L433.00,585.03 L433.00,574.62 L431.85,574.62 L431.85,573.48 L430.71,573.48 L430.71,589.10 L429.57,589.10 L429.57,577.23 L428.43,577.23 L428.43,572.82 L427.29,572.82 L427.29,568.77 L426.15,568.77 L426.15,577.27 L425.00,577.27 L425.00,573.13 L423.86,573.13 L423.86,566.65 L422.72,566.65 L422.72,572.90 L421.58,572.90 L421.58,584.89 L420.44,584.89 L420.44,570.71 L419.30,570.71 L419.30,564.18 L418.15,564.18 L418.15,559.59 L417.01,559.59 L417.01,560.42 L415.87,560.42 L415.87,565.29 L414.73,565.29 L414.73,565.79 L413.59,565.79 L413.59,561.13 L412.45,561.13 L412.45,561.54 L411.30,561.54 L411.30,556.87 L410.16,556.87 L410.16,555.75 L409.02,555.75 L409.02,551.49 L407.88,551.49 L407.88,558.32 L406.74,558.32 L406.74,560.09 L405.60,560.09 L405.60,558.85 L404.45,558.85 L404.45,558.67 L403.31,558.67 L403.31,575.40 L402.17,575.40 L402.17,560.75 L401.03,560.75 L401.03,573.85 L399.89,573.85 L399.89,564.49 L398.75,564.49 L398.75,576.55 L397.60,576.55 L397.60,572.28 L396.46,572.28 L396.46,568.39 L395.32,568.39 L395.32,570.49 L394.18,570.49 L394.18,573.60 L393.04,573.60 L393.04,561.81 L391.90,561.81 L391.90,555.56 L390.75,555.56 L390.75,553.29 L389.61,553.29 L389.61,561.22 L388.47,561.22 L388.47,561.85 L387.33,561.85 L387.33,560.96 L386.19,560.96 L386.19,560.99 L385.05,560.99 L385.05,571.79 L383.90,571.79 L383.90,562.90 L382.76,562.90 L382.76,561.07 L381.62,561.07 L381.62,554.62 L380.48,554.62 L380.48,562.06 L379.34,562.06 L379.34,563.94 L378.20,563.94 L378.20,563.91 L377.05,563.91 L377.05,560.89 L375.91,560.89 L375.91,562.39 L374.77,562.39 L374.77,562.06 L373.63,562.06 L373.63,592.07 L372.49,592.07 L372.49,593.77 L371.35,593.77 L371.35,563.75 L370.20,563.75 L370.20,566.97 L369.06,566.97 L369.06,562.65 L367.92,562.65 L367.92,561.85 L366.78,561.85 L366.78,573.56 L365.64,573.56 L365.64,565.97 L364.50,565.97 L364.50,561.89 L363.35,561.89 L363.35,567.01 L362.21,567.01 L362.21,553.72 L361.07,553.72 L361.07,554.43 L359.93,554.43 Z" fill="#a8a8a8" stroke="none"/>
<line x1="360.50" y1="540.50" x2="634.50" y2="540.50" stroke="#000" stroke-width="1" stroke-dasharray="8.6 5.55" stroke-dashoffset="8.55"/>
<path d="M360.50,538.95 L361.64,532.07 L362.78,543.08 L363.93,532.12 L365.07,546.73 L366.21,539.40 L367.35,536.12 L368.49,539.94 L369.63,542.01 L370.77,541.29 L371.92,551.19 L373.06,547.64 L374.20,547.60 L375.34,554.31 L376.48,549.96 L377.62,543.00 L378.77,539.49 L379.91,534.16 L381.05,532.25 L382.19,535.56 L383.33,534.34 L384.48,538.41 L385.62,540.64 L386.76,535.30 L387.90,520.43 L389.04,517.72 L390.18,494.44 L391.32,505.38 L392.47,516.51 L393.61,512.84 L394.75,529.99 L395.89,535.56 L397.03,540.57 L398.18,544.67 L399.32,541.83 L400.46,534.56 L401.60,535.47 L402.74,522.38 L403.88,523.06 L405.02,520.75 L406.17,536.17 L407.31,528.40 L408.45,523.19 L409.59,523.63 L410.73,525.82 L411.88,528.11 L413.02,534.69 L414.16,535.14 L415.30,542.11 L416.44,538.23 L417.58,548.68 L418.73,542.16 L419.87,559.54 L421.01,553.01 L422.15,546.86 L423.29,538.59 L424.43,543.88 L425.57,535.49 L426.72,533.46 L427.86,540.46 L429.00,547.28 L430.14,550.13 L431.28,543.34 L432.43,554.59 L433.57,554.92 L434.71,557.29 L435.85,552.42 L436.99,547.37 L438.13,551.11 L439.27,538.54 L440.42,540.28 L441.56,531.37 L442.70,522.45 L443.84,525.97 L444.98,530.12 L446.12,530.76 L447.27,535.95 L448.41,551.26 L449.55,543.39 L450.69,549.11 L451.83,557.17 L452.98,548.67 L454.12,546.84 L455.26,533.55 L456.40,543.41 L457.54,542.51 L458.68,539.04 L459.82,543.77 L460.97,540.44 L462.11,545.17 L463.25,542.08 L464.39,536.86 L465.53,535.76 L466.68,540.30 L467.82,542.92 L468.96,540.06 L470.10,536.91 L471.24,537.46 L472.38,528.34 L473.52,539.83 L474.67,529.32 L475.81,535.22 L476.95,530.71 L478.09,541.33 L479.23,541.60 L480.38,536.75 L481.52,533.42 L482.66,525.98 L483.80,532.16 L484.94,531.89 L486.08,525.72 L487.23,522.76 L488.37,519.20 L489.51,513.19 L490.65,513.18 L491.79,516.07 L492.93,523.04 L494.07,517.13 L495.22,513.92 L496.36,519.84 L497.50,523.34 L498.64,531.81 L499.78,535.17 L500.92,528.64 L502.07,544.74 L503.21,539.71 L504.35,547.23 L505.49,537.80 L506.63,551.94 L507.77,541.69 L508.92,535.27 L510.06,540.10 L511.20,536.70 L512.34,546.05 L513.48,538.46 L514.62,542.30 L515.77,542.18 L516.91,548.50 L518.05,542.98 L519.19,546.25 L520.33,539.99 L521.48,544.42 L522.62,533.29 L523.76,546.04 L524.90,537.59 L526.04,540.01 L527.18,545.74 L528.33,542.07 L529.47,545.31 L530.61,546.13 L531.75,542.21 L532.89,556.43 L534.03,540.84 L535.17,544.97 L536.32,542.45 L537.46,546.40 L538.60,537.62 L539.74,533.48 L540.88,537.94 L542.02,534.80 L543.17,535.99 L544.31,539.99 L545.45,536.91 L546.59,547.12 L547.73,558.08 L548.88,558.34 L550.02,560.13 L551.16,562.57 L552.30,562.43 L553.44,560.20 L554.58,550.66 L555.73,549.17 L556.87,543.07 L558.01,544.21 L559.15,547.48 L560.29,549.51 L561.43,564.94 L562.58,564.36 L563.72,565.98 L564.86,574.61 L566.00,562.82 L567.14,567.43 L568.28,555.07 L569.42,565.37 L570.57,568.27 L571.71,564.90 L572.85,567.86 L573.99,578.39 L575.13,568.65 L576.27,579.02 L577.42,570.02 L578.56,574.20 L579.70,572.08 L580.84,590.98 L581.98,586.67 L583.12,587.40 L584.27,576.93 L585.41,573.02 L586.55,572.20 L587.69,563.19 L588.83,567.21 L589.98,573.73 L591.12,567.08 L592.26,566.79 L593.40,568.06 L594.54,556.35 L595.68,562.24 L596.83,555.89 L597.97,568.61 L599.11,570.75 L600.25,570.36 L601.39,580.79 L602.53,582.21 L603.67,576.72 L604.82,572.42 L605.96,570.78 L607.10,574.23 L608.24,572.15 L609.38,575.76 L610.52,575.58 L611.67,572.57 L612.81,566.62 L613.95,574.63 L615.09,574.05 L616.23,587.09 L617.38,582.94 L618.52,568.94 L619.66,572.60 L620.80,570.92 L621.94,578.82 L623.08,589.05 L624.22,595.35 L625.37,604.88 L626.51,598.46 L627.65,599.98 L628.79,595.96 L629.93,588.42 L631.08,604.97 L632.22,595.98 L633.36,598.81" fill="none" stroke="#000" stroke-width="3.8" stroke-linejoin="round"/>
<path d="M498.40,534.00 L499.50,522.00 L500.50,530.00 L501.20,519.00 L502.20,536.00 L503.00,524.00 L504.00,540.00 L505.00,522.00 L506.00,533.00 L507.00,521.00 L508.00,538.00 L509.00,528.00 L510.50,545.00 L511.50,532.00 L512.50,548.00 L513.50,535.00 L514.50,556.00 L515.50,540.00 L516.20,559.00 L517.00,538.00 L518.00,552.00 L519.00,542.00 L520.00,560.00 L521.00,545.00 L522.00,566.00 L523.00,548.00 L523.80,569.00 L524.80,545.00 L525.80,552.00 L526.80,538.00 L527.80,540.00 L528.90,534.00" fill="none" stroke="#00f000" stroke-width="1.5" stroke-linejoin="round"/>
</g>
<path d="M52.0,24.5 L326.5,24.5 L326.5,223.5 L52.0,223.5 Z" fill="none" stroke="#000" stroke-width="1"/>
<line x1="97.5" y1="223.5" x2="97.5" y2="220.7" stroke="#000"/>
<line x1="97.5" y1="24.5" x2="97.5" y2="27.3" stroke="#000"/>
<line x1="154.5" y1="223.5" x2="154.5" y2="220.7" stroke="#000"/>
<line x1="154.5" y1="24.5" x2="154.5" y2="27.3" stroke="#000"/>
<line x1="211.5" y1="223.5" x2="211.5" y2="220.7" stroke="#000"/>
<line x1="211.5" y1="24.5" x2="211.5" y2="27.3" stroke="#000"/>
<line x1="269.5" y1="223.5" x2="269.5" y2="220.7" stroke="#000"/>
<line x1="269.5" y1="24.5" x2="269.5" y2="27.3" stroke="#000"/>
<text x="48.00" y="227.50" font-size="13" text-anchor="end" textLength="20.84" lengthAdjust="spacingAndGlyphs" stroke="#000" stroke-width="0.3">-0.5</text>
<line x1="51.5" y1="190.5" x2="54.3" y2="190.5" stroke="#000"/>
<line x1="326.5" y1="190.5" x2="323.7" y2="190.5" stroke="#000"/>
<text x="48.00" y="194.33" font-size="13" text-anchor="end" textLength="6.72" lengthAdjust="spacingAndGlyphs" stroke="#000" stroke-width="0.3">0</text>
<line x1="51.5" y1="157.5" x2="54.3" y2="157.5" stroke="#000"/>
<line x1="326.5" y1="157.5" x2="323.7" y2="157.5" stroke="#000"/>
<text x="48.00" y="161.17" font-size="13" text-anchor="end" textLength="16.81" lengthAdjust="spacingAndGlyphs" stroke="#000" stroke-width="0.3">0.5</text>
<line x1="51.5" y1="124.5" x2="54.3" y2="124.5" stroke="#000"/>
<line x1="326.5" y1="124.5" x2="323.7" y2="124.5" stroke="#000"/>
<text x="48.00" y="128.00" font-size="13" text-anchor="end" textLength="6.72" lengthAdjust="spacingAndGlyphs" stroke="#000" stroke-width="0.3">1</text>
<line x1="51.5" y1="90.5" x2="54.3" y2="90.5" stroke="#000"/>
<line x1="326.5" y1="90.5" x2="323.7" y2="90.5" stroke="#000"/>
<text x="48.00" y="94.83" font-size="13" text-anchor="end" textLength="16.81" lengthAdjust="spacingAndGlyphs" stroke="#000" stroke-width="0.3">1.5</text>
<line x1="51.5" y1="57.5" x2="54.3" y2="57.5" stroke="#000"/>
<line x1="326.5" y1="57.5" x2="323.7" y2="57.5" stroke="#000"/>
<text x="48.00" y="61.67" font-size="13" text-anchor="end" textLength="6.72" lengthAdjust="spacingAndGlyphs" stroke="#000" stroke-width="0.3">2</text>
<text x="48.00" y="28.50" font-size="13" text-anchor="end" textLength="16.81" lengthAdjust="spacingAndGlyphs" stroke="#000" stroke-width="0.3">2.5</text>
<path d="M360.5,24.5 L634.5,24.5 L634.5,223.5 L360.5,223.5 Z" fill="none" stroke="#000" stroke-width="1"/>
<line x1="405.5" y1="223.5" x2="405.5" y2="220.7" stroke="#000"/>
<line x1="405.5" y1="24.5" x2="405.5" y2="27.3" stroke="#000"/>
<line x1="462.5" y1="223.5" x2="462.5" y2="220.7" stroke="#000"/>
<line x1="462.5" y1="24.5" x2="462.5" y2="27.3" stroke="#000"/>
<line x1="519.5" y1="223.5" x2="519.5" y2="220.7" stroke="#000"/>
<line x1="519.5" y1="24.5" x2="519.5" y2="27.3" stroke="#000"/>
<line x1="576.5" y1="223.5" x2="576.5" y2="220.7" stroke="#000"/>
<line x1="576.5" y1="24.5" x2="576.5" y2="27.3" stroke="#000"/>
<line x1="360.5" y1="190.5" x2="363.3" y2="190.5" stroke="#000"/>
<line x1="634.5" y1="190.5" x2="631.7" y2="190.5" stroke="#000"/>
<text x="357.00" y="194.33" font-size="13" text-anchor="end" textLength="6.72" lengthAdjust="spacingAndGlyphs" stroke="#000" stroke-width="0.3">0</text>
<line x1="360.5" y1="148.5" x2="363.3" y2="148.5" stroke="#000"/>
<line x1="634.5" y1="148.5" x2="631.7" y2="148.5" stroke="#000"/>
<text x="357.00" y="152.88" font-size="13" text-anchor="end" textLength="6.72" lengthAdjust="spacingAndGlyphs" stroke="#000" stroke-width="0.3">1</text>
<line x1="360.5" y1="107.5" x2="363.3" y2="107.5" stroke="#000"/>
<line x1="634.5" y1="107.5" x2="631.7" y2="107.5" stroke="#000"/>
<text x="357.00" y="111.42" font-size="13" text-anchor="end" textLength="6.72" lengthAdjust="spacingAndGlyphs" stroke="#000" stroke-width="0.3">2</text>
<line x1="360.5" y1="65.5" x2="363.3" y2="65.5" stroke="#000"/>
<line x1="634.5" y1="65.5" x2="631.7" y2="65.5" stroke="#000"/>
<text x="357.00" y="69.96" font-size="13" text-anchor="end" textLength="6.72" lengthAdjust="spacingAndGlyphs" stroke="#000" stroke-width="0.3">3</text>
<text x="357.00" y="28.50" font-size="13" text-anchor="end" textLength="6.72" lengthAdjust="spacingAndGlyphs" stroke="#000" stroke-width="0.3">4</text>
<path d="M52.0,250.5 L326.5,250.5 L326.5,448.0 L52.0,448.0 Z" fill="none" stroke="#000" stroke-width="1"/>
<line x1="97.5" y1="448.0" x2="97.5" y2="445.2" stroke="#000"/>
<line x1="97.5" y1="250.5" x2="97.5" y2="253.3" stroke="#000"/>
<line x1="154.5" y1="448.0" x2="154.5" y2="445.2" stroke="#000"/>
<line x1="154.5" y1="250.5" x2="154.5" y2="253.3" stroke="#000"/>
<line x1="211.5" y1="448.0" x2="211.5" y2="445.2" stroke="#000"/>
<line x1="211.5" y1="250.5" x2="211.5" y2="253.3" stroke="#000"/>
<line x1="269.5" y1="448.0" x2="269.5" y2="445.2" stroke="#000"/>
<line x1="269.5" y1="250.5" x2="269.5" y2="253.3" stroke="#000"/>
<line x1="51.5" y1="434.5" x2="54.3" y2="434.5" stroke="#000"/>
<line x1="326.5" y1="434.5" x2="323.7" y2="434.5" stroke="#000"/>
<text x="48.00" y="438.83" font-size="13" text-anchor="end" textLength="10.75" lengthAdjust="spacingAndGlyphs" stroke="#000" stroke-width="0.3">-2</text>
<line x1="51.5" y1="408.5" x2="54.3" y2="408.5" stroke="#000"/>
<line x1="326.5" y1="408.5" x2="323.7" y2="408.5" stroke="#000"/>
<text x="48.00" y="412.50" font-size="13" text-anchor="end" textLength="6.72" lengthAdjust="spacingAndGlyphs" stroke="#000" stroke-width="0.3">0</text>
<line x1="51.5" y1="382.5" x2="54.3" y2="382.5" stroke="#000"/>
<line x1="326.5" y1="382.5" x2="323.7" y2="382.5" stroke="#000"/>
<text x="48.00" y="386.17" font-size="13" text-anchor="end" textLength="6.72" lengthAdjust="spacingAndGlyphs" stroke="#000" stroke-width="0.3">2</text>
<line x1="51.5" y1="355.5" x2="54.3" y2="355.5" stroke="#000"/>
<line x1="326.5" y1="355.5" x2="323.7" y2="355.5" stroke="#000"/>
<text x="48.00" y="359.83" font-size="13" text-anchor="end" textLength="6.72" lengthAdjust="spacingAndGlyphs" stroke="#000" stroke-width="0.3">4</text>
<line x1="51.5" y1="329.5" x2="54.3" y2="329.5" stroke="#000"/>
<line x1="326.5" y1="329.5" x2="323.7" y2="329.5" stroke="#000"/>
<text x="48.00" y="333.50" font-size="13" text-anchor="end" textLength="6.72" lengthAdjust="spacingAndGlyphs" stroke="#000" stroke-width="0.3">6</text>
<line x1="51.5" y1="303.5" x2="54.3" y2="303.5" stroke="#000"/>
<line x1="326.5" y1="303.5" x2="323.7" y2="303.5" stroke="#000"/>
<text x="48.00" y="307.17" font-size="13" text-anchor="end" textLength="6.72" lengthAdjust="spacingAndGlyphs" stroke="#000" stroke-width="0.3">8</text>
<line x1="51.5" y1="276.5" x2="54.3" y2="276.5" stroke="#000"/>
<line x1="326.5" y1="276.5" x2="323.7" y2="276.5" stroke="#000"/>
<text x="48.00" y="280.83" font-size="13" text-anchor="end" textLength="13.45" lengthAdjust="spacingAndGlyphs" stroke="#000" stroke-width="0.3">10</text>
<text x="48.00" y="254.50" font-size="13" text-anchor="end" textLength="13.45" lengthAdjust="spacingAndGlyphs" stroke="#000" stroke-width="0.3">12</text>
<path d="M360.5,249.5 L634.5,249.5 L634.5,448.0 L360.5,448.0 Z" fill="none" stroke="#000" stroke-width="1"/>
<line x1="405.5" y1="448.0" x2="405.5" y2="445.2" stroke="#000"/>
<line x1="405.5" y1="249.5" x2="405.5" y2="252.3" stroke="#000"/>
<line x1="462.5" y1="448.0" x2="462.5" y2="445.2" stroke="#000"/>
<line x1="462.5" y1="249.5" x2="462.5" y2="252.3" stroke="#000"/>
<line x1="519.5" y1="448.0" x2="519.5" y2="445.2" stroke="#000"/>
<line x1="519.5" y1="249.5" x2="519.5" y2="252.3" stroke="#000"/>
<line x1="576.5" y1="448.0" x2="576.5" y2="445.2" stroke="#000"/>
<line x1="576.5" y1="249.5" x2="576.5" y2="252.3" stroke="#000"/>
<text x="357.00" y="452.00" font-size="13" text-anchor="end" textLength="10.75" lengthAdjust="spacingAndGlyphs" stroke="#000" stroke-width="0.3">-5</text>
<line x1="360.5" y1="381.5" x2="363.3" y2="381.5" stroke="#000"/>
<line x1="634.5" y1="381.5" x2="631.7" y2="381.5" stroke="#000"/>
<text x="357.00" y="385.83" font-size="13" text-anchor="end" textLength="6.72" lengthAdjust="spacingAndGlyphs" stroke="#000" stroke-width="0.3">0</text>
<line x1="360.5" y1="315.5" x2="363.3" y2="315.5" stroke="#000"/>
<line x1="634.5" y1="315.5" x2="631.7" y2="315.5" stroke="#000"/>
<text x="357.00" y="319.67" font-size="13" text-anchor="end" textLength="6.72" lengthAdjust="spacingAndGlyphs" stroke="#000" stroke-width="0.3">5</text>
<text x="357.00" y="253.50" font-size="13" text-anchor="end" textLength="13.45" lengthAdjust="spacingAndGlyphs" stroke="#000" stroke-width="0.3">10</text>
<path d="M52.0,473.5 L326.5,473.5 L326.5,673.5 L52.0,673.5 Z" fill="none" stroke="#000" stroke-width="1"/>
<line x1="97.5" y1="673.5" x2="97.5" y2="670.7" stroke="#000"/>
<line x1="97.5" y1="473.5" x2="97.5" y2="476.3" stroke="#000"/>
<line x1="154.5" y1="673.5" x2="154.5" y2="670.7" stroke="#000"/>
<line x1="154.5" y1="473.5" x2="154.5" y2="476.3" stroke="#000"/>
<line x1="211.5" y1="673.5" x2="211.5" y2="670.7" stroke="#000"/>
<line x1="211.5" y1="473.5" x2="211.5" y2="476.3" stroke="#000"/>
<line x1="269.5" y1="673.5" x2="269.5" y2="670.7" stroke="#000"/>
<line x1="269.5" y1="473.5" x2="269.5" y2="476.3" stroke="#000"/>
<text x="48.00" y="677.50" font-size="13" text-anchor="end" textLength="17.47" lengthAdjust="spacingAndGlyphs" stroke="#000" stroke-width="0.3">-10</text>
<line x1="51.5" y1="640.5" x2="54.3" y2="640.5" stroke="#000"/>
<line x1="326.5" y1="640.5" x2="323.7" y2="640.5" stroke="#000"/>
<text x="48.00" y="644.17" font-size="13" text-anchor="end" textLength="10.75" lengthAdjust="spacingAndGlyphs" stroke="#000" stroke-width="0.3">-8</text>
<line x1="51.5" y1="606.5" x2="54.3" y2="606.5" stroke="#000"/>
<line x1="326.5" y1="606.5" x2="323.7" y2="606.5" stroke="#000"/>
<text x="48.00" y="610.83" font-size="13" text-anchor="end" textLength="10.75" lengthAdjust="spacingAndGlyphs" stroke="#000" stroke-width="0.3">-6</text>
<line x1="51.5" y1="573.5" x2="54.3" y2="573.5" stroke="#000"/>
<line x1="326.5" y1="573.5" x2="323.7" y2="573.5" stroke="#000"/>
<text x="48.00" y="577.50" font-size="13" text-anchor="end" textLength="10.75" lengthAdjust="spacingAndGlyphs" stroke="#000" stroke-width="0.3">-4</text>
<line x1="51.5" y1="540.5" x2="54.3" y2="540.5" stroke="#000"/>
<line x1="326.5" y1="540.5" x2="323.7" y2="540.5" stroke="#000"/>
<text x="48.00" y="544.17" font-size="13" text-anchor="end" textLength="10.75" lengthAdjust="spacingAndGlyphs" stroke="#000" stroke-width="0.3">-2</text>
<line x1="51.5" y1="506.5" x2="54.3" y2="506.5" stroke="#000"/>
<line x1="326.5" y1="506.5" x2="323.7" y2="506.5" stroke="#000"/>
<text x="48.00" y="510.83" font-size="13" text-anchor="end" textLength="6.72" lengthAdjust="spacingAndGlyphs" stroke="#000" stroke-width="0.3">0</text>
<text x="48.00" y="477.50" font-size="13" text-anchor="end" textLength="6.72" lengthAdjust="spacingAndGlyphs" stroke="#000" stroke-width="0.3">2</text>
<text x="97.23" y="689.30" font-size="13" text-anchor="middle" textLength="26.80" lengthAdjust="spacingAndGlyphs" stroke="#000" stroke-width="0.3">1900</text>
<text x="154.53" y="689.30" font-size="13" text-anchor="middle" textLength="26.80" lengthAdjust="spacingAndGlyphs" stroke="#000" stroke-width="0.3">1950</text>
<text x="211.82" y="689.30" font-size="13" text-anchor="middle" textLength="26.80" lengthAdjust="spacingAndGlyphs" stroke="#000" stroke-width="0.3">2000</text>
<text x="269.11" y="689.30" font-size="13" text-anchor="middle" textLength="26.80" lengthAdjust="spacingAndGlyphs" stroke="#000" stroke-width="0.3">2050</text>
<text x="326.40" y="689.30" font-size="13" text-anchor="middle" textLength="26.80" lengthAdjust="spacingAndGlyphs" stroke="#000" stroke-width="0.3">2100</text>
<path d="M360.5,473.5 L634.5,473.5 L634.5,673.5 L360.5,673.5 Z" fill="none" stroke="#000" stroke-width="1"/>
<line x1="405.5" y1="673.5" x2="405.5" y2="670.7" stroke="#000"/>
<line x1="405.5" y1="473.5" x2="405.5" y2="476.3" stroke="#000"/>
<line x1="462.5" y1="673.5" x2="462.5" y2="670.7" stroke="#000"/>
<line x1="462.5" y1="473.5" x2="462.5" y2="476.3" stroke="#000"/>
<line x1="519.5" y1="673.5" x2="519.5" y2="670.7" stroke="#000"/>
<line x1="519.5" y1="473.5" x2="519.5" y2="476.3" stroke="#000"/>
<line x1="576.5" y1="673.5" x2="576.5" y2="670.7" stroke="#000"/>
<line x1="576.5" y1="473.5" x2="576.5" y2="476.3" stroke="#000"/>
<text x="357.00" y="677.50" font-size="13" text-anchor="end" textLength="17.47" lengthAdjust="spacingAndGlyphs" stroke="#000" stroke-width="0.3">-10</text>
<line x1="360.5" y1="606.5" x2="363.3" y2="606.5" stroke="#000"/>
<line x1="634.5" y1="606.5" x2="631.7" y2="606.5" stroke="#000"/>
<text x="357.00" y="610.83" font-size="13" text-anchor="end" textLength="10.75" lengthAdjust="spacingAndGlyphs" stroke="#000" stroke-width="0.3">-5</text>
<line x1="360.5" y1="540.5" x2="363.3" y2="540.5" stroke="#000"/>
<line x1="634.5" y1="540.5" x2="631.7" y2="540.5" stroke="#000"/>
<text x="357.00" y="544.17" font-size="13" text-anchor="end" textLength="6.72" lengthAdjust="spacingAndGlyphs" stroke="#000" stroke-width="0.3">0</text>
<text x="357.00" y="477.50" font-size="13" text-anchor="end" textLength="6.72" lengthAdjust="spacingAndGlyphs" stroke="#000" stroke-width="0.3">5</text>
<text x="405.52" y="689.30" font-size="13" text-anchor="middle" textLength="26.80" lengthAdjust="spacingAndGlyphs" stroke="#000" stroke-width="0.3">1900</text>
<text x="462.54" y="689.30" font-size="13" text-anchor="middle" textLength="26.80" lengthAdjust="spacingAndGlyphs" stroke="#000" stroke-width="0.3">1950</text>
<text x="519.56" y="689.30" font-size="13" text-anchor="middle" textLength="26.80" lengthAdjust="spacingAndGlyphs" stroke="#000" stroke-width="0.3">2000</text>
<text x="576.58" y="689.30" font-size="13" text-anchor="middle" textLength="26.80" lengthAdjust="spacingAndGlyphs" stroke="#000" stroke-width="0.3">2050</text>
<text x="633.60" y="689.30" font-size="13" text-anchor="middle" textLength="26.80" lengthAdjust="spacingAndGlyphs" stroke="#000" stroke-width="0.3">2100</text>
<text x="315.40" y="218.00" font-size="19.5" text-anchor="middle" font-weight="bold" >a</text>
<text x="611.50" y="218.00" font-size="19.5" text-anchor="middle" font-weight="bold" >b</text>
<text x="314.60" y="438.00" font-size="19.5" text-anchor="middle" font-weight="bold" >c</text>
<text x="623.30" y="437.20" font-size="19.5" text-anchor="middle" font-weight="bold" >d</text>
<text x="314.70" y="494.00" font-size="19.5" text-anchor="middle" font-weight="bold" >e</text>
<text x="620.50" y="493.50" font-size="19.5" text-anchor="middle" font-weight="bold" >f</text>
<text x="136.30" y="12.60" font-size="14" font-weight="bold" textLength="106.50" lengthAdjust="spacingAndGlyphs" >Tropical Ocean</text>
<text x="448.90" y="12.60" font-size="14" font-weight="bold" textLength="96.20" lengthAdjust="spacingAndGlyphs" >Tropical Land</text>
<text x="173.00" y="706.50" font-size="14" font-weight="bold" textLength="33.00" lengthAdjust="spacingAndGlyphs" >Year</text>
<text x="481.00" y="706.50" font-size="14" font-weight="bold" textLength="33.00" lengthAdjust="spacingAndGlyphs" >Year</text>
<text transform="translate(16.2,127.1) rotate(-90)" x="0" y="0" font-size="15" font-weight="bold" text-anchor="middle" textLength="98" lengthAdjust="spacingAndGlyphs">T anomaly (K)</text>
<text transform="translate(16.2,351.0) rotate(-90)" x="0" y="0" font-size="15" font-weight="bold" text-anchor="middle" >(P-E)<tspan font-size="11" font-weight="normal" dy="6.5">wet</tspan><tspan dy="-6.5"> change (%)</tspan></text>
<text transform="translate(13.0,576.6) rotate(-90)" x="0" y="0" font-size="15" font-weight="bold" text-anchor="middle" >(P-E)<tspan font-size="11" font-weight="normal" dy="6.5">dry</tspan><tspan dy="-6.5"> change (%)</tspan></text>
<rect x="56.5" y="28.5" width="179" height="87.5" fill="#fff" stroke="#000"/>
<line x1="61" y1="39.0" x2="89" y2="39.0" stroke="#fa7414" stroke-width="2"/>
<rect x="61" y="57.7" width="28" height="12.6" fill="#a8a8a8"/>
<line x1="61" y1="89.0" x2="89" y2="89.0" stroke="#000" stroke-width="2.8"/>
<line x1="61" y1="106.3" x2="89" y2="106.3" stroke="#00f000" stroke-width="2"/>
<text x="92.50" y="46.60" font-size="14" font-weight="bold" textLength="67.00" lengthAdjust="spacingAndGlyphs" >HadCRUT4</text>
<text x="92.50" y="64.00" font-size="14" font-weight="bold" textLength="110.00" lengthAdjust="spacingAndGlyphs" >CMIP5 historical +</text>
<text x="92.50" y="78.50" font-size="14" font-weight="bold" textLength="50.00" lengthAdjust="spacingAndGlyphs" >RCP 4.5</text>
<text x="92.50" y="95.50" font-size="14" font-weight="bold" textLength="95.00" lengthAdjust="spacingAndGlyphs" >Ensemble mean</text>
<text x="92.50" y="112.80" font-size="14" font-weight="bold" textLength="137.50" lengthAdjust="spacingAndGlyphs" >AMIP5 ensemble mean</text></svg></body></html>
